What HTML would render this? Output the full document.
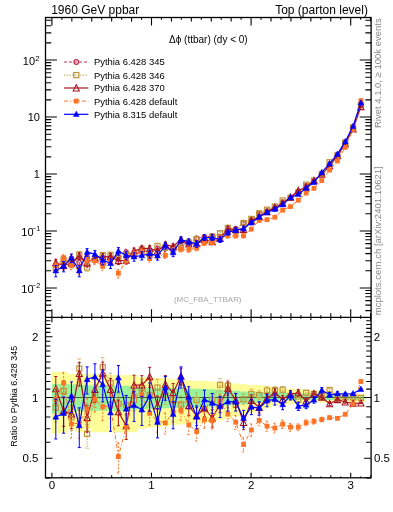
<!DOCTYPE html>
<html><head><meta charset="utf-8"><style>
html,body{margin:0;padding:0;background:#fff;}
svg{display:block;font-family:"Liberation Sans", sans-serif;will-change:transform;}
</style></head><body>
<svg width="393" height="512" viewBox="0 0 393 512">
<rect width="393" height="512" fill="#fff"/>
<path d="M51.90,371.80 L59.72,371.80 L59.72,371.80 L67.55,371.80 L67.55,374.00 L75.37,374.00 L75.37,374.00 L83.19,374.00 L83.19,374.00 L91.01,374.00 L91.01,374.00 L98.84,374.00 L98.84,375.10 L106.66,375.10 L106.66,375.10 L114.48,375.10 L114.48,375.10 L122.30,375.10 L122.30,375.10 L130.13,375.10 L130.13,375.10 L137.95,375.10 L137.95,376.90 L145.77,376.90 L145.77,377.50 L153.59,377.50 L153.59,377.93 L161.42,377.93 L161.42,378.20 L169.24,378.20 L169.24,379.15 L177.06,379.15 L177.06,380.10 L184.88,380.10 L184.88,380.40 L192.71,380.40 L192.71,380.70 L200.53,380.70 L200.53,381.05 L208.35,381.05 L208.35,381.40 L216.17,381.40 L216.17,382.12 L224.00,382.12 L224.00,382.84 L231.82,382.84 L231.82,383.56 L239.64,383.56 L239.64,384.28 L247.46,384.28 L247.46,385.00 L255.29,385.00 L255.29,385.00 L263.11,385.00 L263.11,386.25 L270.93,386.25 L270.93,387.74 L278.75,387.74 L278.75,388.22 L286.58,388.22 L286.58,388.70 L294.40,388.70 L294.40,389.20 L302.22,389.20 L302.22,389.70 L310.04,389.70 L310.04,390.20 L317.87,390.20 L317.87,390.92 L325.69,390.92 L325.69,391.63 L333.51,391.63 L333.51,392.35 L341.33,392.35 L341.33,393.07 L349.16,393.07 L349.16,393.78 L356.98,393.78 L356.98,394.50 L364.80,394.50 L364.80,401.90 L356.98,401.90 L356.98,402.03 L349.16,402.03 L349.16,402.17 L341.33,402.17 L341.33,402.30 L333.51,402.30 L333.51,402.43 L325.69,402.43 L325.69,402.57 L317.87,402.57 L317.87,402.70 L310.04,402.70 L310.04,403.20 L302.22,403.20 L302.22,403.70 L294.40,403.70 L294.40,404.21 L286.58,404.21 L286.58,404.72 L278.75,404.72 L278.75,405.24 L270.93,405.24 L270.93,408.25 L263.11,408.25 L263.11,411.40 L255.29,411.40 L255.29,412.70 L247.46,412.70 L247.46,414.50 L239.64,414.50 L239.64,416.50 L231.82,416.50 L231.82,418.50 L224.00,418.50 L224.00,420.50 L216.17,420.50 L216.17,422.21 L208.35,422.21 L208.35,422.79 L200.53,422.79 L200.53,423.36 L192.71,423.36 L192.71,423.93 L184.88,423.93 L184.88,424.50 L177.06,424.50 L177.06,425.33 L169.24,425.33 L169.24,426.17 L161.42,426.17 L161.42,427.00 L153.59,427.00 L153.59,427.85 L145.77,427.85 L145.77,428.70 L137.95,428.70 L137.95,432.30 L130.13,432.30 L130.13,432.30 L122.30,432.30 L122.30,432.30 L114.48,432.30 L114.48,432.30 L106.66,432.30 L106.66,432.30 L98.84,432.30 L98.84,432.30 L91.01,432.30 L91.01,429.20 L83.19,429.20 L83.19,432.00 L75.37,432.00 L75.37,429.40 L67.55,429.40 L67.55,433.50 L59.72,433.50 L59.72,433.50 L51.90,433.50 Z" fill="#fffd9a" stroke="none"/>
<path d="M51.90,383.90 L59.72,383.90 L59.72,383.90 L67.55,383.90 L67.55,384.37 L75.37,384.37 L75.37,384.83 L83.19,384.83 L83.19,385.30 L91.01,385.30 L91.01,385.55 L98.84,385.55 L98.84,385.80 L106.66,385.80 L106.66,385.80 L114.48,385.80 L114.48,385.80 L122.30,385.80 L122.30,385.80 L130.13,385.80 L130.13,387.00 L137.95,387.00 L137.95,387.36 L145.77,387.36 L145.77,387.72 L153.59,387.72 L153.59,387.94 L161.42,387.94 L161.42,388.02 L169.24,388.02 L169.24,388.10 L177.06,388.10 L177.06,388.18 L184.88,388.18 L184.88,388.38 L192.71,388.38 L192.71,388.64 L200.53,388.64 L200.53,388.89 L208.35,388.89 L208.35,389.15 L216.17,389.15 L216.17,389.66 L224.00,389.66 L224.00,390.24 L231.82,390.24 L231.82,390.82 L239.64,390.82 L239.64,391.40 L247.46,391.40 L247.46,391.98 L255.29,391.98 L255.29,392.13 L263.11,392.13 L263.11,392.17 L270.93,392.17 L270.93,392.29 L278.75,392.29 L278.75,392.59 L286.58,392.59 L286.58,392.88 L294.40,392.88 L294.40,393.23 L302.22,393.23 L302.22,393.61 L310.04,393.61 L310.04,394.00 L317.87,394.00 L317.87,394.38 L325.69,394.38 L325.69,394.77 L333.51,394.77 L333.51,395.15 L341.33,395.15 L341.33,395.53 L349.16,395.53 L349.16,395.92 L356.98,395.92 L356.98,396.30 L364.80,396.30 L364.80,399.80 L356.98,399.80 L356.98,399.83 L349.16,399.83 L349.16,399.87 L341.33,399.87 L341.33,399.90 L333.51,399.90 L333.51,399.94 L325.69,399.94 L325.69,399.97 L317.87,399.97 L317.87,400.01 L310.04,400.01 L310.04,400.04 L302.22,400.04 L302.22,400.08 L294.40,400.08 L294.40,400.26 L286.58,400.26 L286.58,400.67 L278.75,400.67 L278.75,401.08 L270.93,401.08 L270.93,401.49 L263.11,401.49 L263.11,402.32 L255.29,402.32 L255.29,403.44 L247.46,403.44 L247.46,404.14 L239.64,404.14 L239.64,404.84 L231.82,404.84 L231.82,405.54 L224.00,405.54 L224.00,406.24 L216.17,406.24 L216.17,406.84 L208.35,406.84 L208.35,407.06 L200.53,407.06 L200.53,407.29 L192.71,407.29 L192.71,407.51 L184.88,407.51 L184.88,407.73 L177.06,407.73 L177.06,407.95 L169.24,407.95 L169.24,408.17 L161.42,408.17 L161.42,408.39 L153.59,408.39 L153.59,408.70 L145.77,408.70 L145.77,409.10 L137.95,409.10 L137.95,409.50 L130.13,409.50 L130.13,411.00 L122.30,411.00 L122.30,410.92 L114.48,410.92 L114.48,410.84 L106.66,410.84 L106.66,410.76 L98.84,410.76 L98.84,410.68 L91.01,410.68 L91.01,410.60 L83.19,410.60 L83.19,411.35 L75.37,411.35 L75.37,412.10 L67.55,412.10 L67.55,413.70 L59.72,413.70 L59.72,413.70 L51.90,413.70 Z" fill="#9af29a" stroke="none"/>
<defs><clipPath id="cm"><rect x="45.5" y="17.5" width="325.6" height="299.85"/></clipPath><clipPath id="cr"><rect x="45.5" y="317.35" width="325.6" height="160.45"/></clipPath></defs>
<g clip-path="url(#cm)">
<path d="M55.81,265.13 L63.63,261.77 L71.46,258.35 L79.28,262.70 L87.10,257.31 L94.92,259.94 L102.75,263.70 L110.57,258.94 L118.39,256.66 L126.21,252.28 L134.04,254.40 L141.86,252.06 L149.68,254.25 L157.50,248.76 L165.33,248.29 L173.15,247.82 L180.97,245.64 L188.79,241.84 L196.62,238.51 L204.44,236.91 L212.26,235.95 L220.09,236.86 L227.91,231.24 L235.73,228.96 L243.55,222.53 L251.38,219.95 L259.20,213.98 L267.02,211.65 L274.84,208.59 L282.67,202.65 L290.49,198.19 L298.31,191.85 L306.13,186.01 L313.96,181.55 L321.78,174.43 L329.60,164.36 L337.42,155.20 L345.25,142.59 L353.07,127.40 L360.89,105.14" fill="none" stroke="#c0304e" stroke-width="1.0" stroke-dasharray="3,2" stroke-linejoin="round"/>
<path d="M55.81,261.25 L55.81,269.72 M54.31,261.25 L57.31,261.25 M54.31,269.72 L57.31,269.72" stroke="#c0304e" stroke-width="1" stroke-dasharray="2,1.5" fill="none"/>
<path d="M63.63,258.13 L63.63,266.04 M62.13,258.13 L65.13,258.13 M62.13,266.04 L65.13,266.04" stroke="#c0304e" stroke-width="1" stroke-dasharray="2,1.5" fill="none"/>
<path d="M71.46,254.94 L71.46,262.31 M69.96,254.94 L72.96,254.94 M69.96,262.31 L72.96,262.31" stroke="#c0304e" stroke-width="1" stroke-dasharray="2,1.5" fill="none"/>
<path d="M79.28,259.00 L79.28,267.06 M77.78,259.00 L80.78,259.00 M77.78,267.06 L80.78,267.06" stroke="#c0304e" stroke-width="1" stroke-dasharray="2,1.5" fill="none"/>
<path d="M87.10,253.96 L87.10,261.17 M85.60,253.96 L88.60,253.96 M85.60,261.17 L88.60,261.17" stroke="#c0304e" stroke-width="1" stroke-dasharray="2,1.5" fill="none"/>
<path d="M94.92,256.42 L94.92,264.04 M93.42,256.42 L96.42,256.42 M93.42,264.04 L96.42,264.04" stroke="#c0304e" stroke-width="1" stroke-dasharray="2,1.5" fill="none"/>
<path d="M102.75,259.92 L102.75,268.15 M101.25,259.92 L104.25,259.92 M101.25,268.15 L104.25,268.15" stroke="#c0304e" stroke-width="1" stroke-dasharray="2,1.5" fill="none"/>
<path d="M110.57,255.49 L110.57,262.95 M109.07,255.49 L112.07,255.49 M109.07,262.95 L112.07,262.95" stroke="#c0304e" stroke-width="1" stroke-dasharray="2,1.5" fill="none"/>
<path d="M118.39,253.35 L118.39,260.47 M116.89,253.35 L119.89,253.35 M116.89,260.47 L119.89,260.47" stroke="#c0304e" stroke-width="1" stroke-dasharray="2,1.5" fill="none"/>
<path d="M126.21,249.24 L126.21,255.75 M124.71,249.24 L127.71,249.24 M124.71,255.75 L127.71,255.75" stroke="#c0304e" stroke-width="1" stroke-dasharray="2,1.5" fill="none"/>
<path d="M134.04,251.23 L134.04,258.03 M132.54,251.23 L135.54,251.23 M132.54,258.03 L135.54,258.03" stroke="#c0304e" stroke-width="1" stroke-dasharray="2,1.5" fill="none"/>
<path d="M141.86,249.03 L141.86,255.51 M140.36,249.03 L143.36,249.03 M140.36,255.51 L143.36,255.51" stroke="#c0304e" stroke-width="1" stroke-dasharray="2,1.5" fill="none"/>
<path d="M149.68,251.09 L149.68,257.87 M148.18,251.09 L151.18,251.09 M148.18,257.87 L151.18,257.87" stroke="#c0304e" stroke-width="1" stroke-dasharray="2,1.5" fill="none"/>
<path d="M157.50,245.92 L157.50,251.97 M156.00,245.92 L159.00,245.92 M156.00,251.97 L159.00,251.97" stroke="#c0304e" stroke-width="1" stroke-dasharray="2,1.5" fill="none"/>
<path d="M165.33,245.47 L165.33,251.47 M163.83,245.47 L166.83,245.47 M163.83,251.47 L166.83,251.47" stroke="#c0304e" stroke-width="1" stroke-dasharray="2,1.5" fill="none"/>
<path d="M173.15,245.03 L173.15,250.97 M171.65,245.03 L174.65,245.03 M171.65,250.97 L174.65,250.97" stroke="#c0304e" stroke-width="1" stroke-dasharray="2,1.5" fill="none"/>
<path d="M180.97,242.96 L180.97,248.64 M179.47,242.96 L182.47,242.96 M179.47,248.64 L182.47,248.64" stroke="#c0304e" stroke-width="1" stroke-dasharray="2,1.5" fill="none"/>
<path d="M188.79,239.35 L188.79,244.61 M187.29,239.35 L190.29,239.35 M187.29,244.61 L190.29,244.61" stroke="#c0304e" stroke-width="1" stroke-dasharray="2,1.5" fill="none"/>
<path d="M196.62,236.18 L196.62,241.09 M195.12,236.18 L198.12,236.18 M195.12,241.09 L198.12,241.09" stroke="#c0304e" stroke-width="1" stroke-dasharray="2,1.5" fill="none"/>
<path d="M204.44,234.64 L204.44,239.40 M202.94,234.64 L205.94,234.64 M202.94,239.40 L205.94,239.40" stroke="#c0304e" stroke-width="1" stroke-dasharray="2,1.5" fill="none"/>
<path d="M212.26,233.73 L212.26,238.39 M210.76,233.73 L213.76,233.73 M210.76,238.39 L213.76,238.39" stroke="#c0304e" stroke-width="1" stroke-dasharray="2,1.5" fill="none"/>
<path d="M220.09,234.60 L220.09,239.35 M218.59,234.60 L221.59,234.60 M218.59,239.35 L221.59,239.35" stroke="#c0304e" stroke-width="1" stroke-dasharray="2,1.5" fill="none"/>
<path d="M227.91,229.21 L227.91,233.45 M226.41,229.21 L229.41,229.21 M226.41,233.45 L229.41,233.45" stroke="#c0304e" stroke-width="1" stroke-dasharray="2,1.5" fill="none"/>
<path d="M235.73,227.02 L235.73,231.07 M234.23,227.02 L237.23,227.02 M234.23,231.07 L237.23,231.07" stroke="#c0304e" stroke-width="1" stroke-dasharray="2,1.5" fill="none"/>
<path d="M243.55,220.82 L243.55,224.37 M242.05,220.82 L245.05,220.82 M242.05,224.37 L245.05,224.37" stroke="#c0304e" stroke-width="1" stroke-dasharray="2,1.5" fill="none"/>
<path d="M251.38,218.32 L251.38,221.69 M249.88,218.32 L252.88,218.32 M249.88,221.69 L252.88,221.69" stroke="#c0304e" stroke-width="1" stroke-dasharray="2,1.5" fill="none"/>
<path d="M259.20,212.53 L259.20,215.52 M257.70,212.53 L260.70,212.53 M257.70,215.52 L260.70,215.52" stroke="#c0304e" stroke-width="1" stroke-dasharray="2,1.5" fill="none"/>
<path d="M267.02,210.27 L267.02,213.12 M265.52,210.27 L268.52,210.27 M265.52,213.12 L268.52,213.12" stroke="#c0304e" stroke-width="1" stroke-dasharray="2,1.5" fill="none"/>
<path d="M274.84,207.29 L274.84,209.97 M273.34,207.29 L276.34,207.29 M273.34,209.97 L276.34,209.97" stroke="#c0304e" stroke-width="1" stroke-dasharray="2,1.5" fill="none"/>
<path d="M282.67,201.49 L282.67,203.87 M281.17,201.49 L284.17,201.49 M281.17,203.87 L284.17,203.87" stroke="#c0304e" stroke-width="1" stroke-dasharray="2,1.5" fill="none"/>
<path d="M290.49,197.13 L290.49,199.30 M288.99,197.13 L291.99,197.13 M288.99,199.30 L291.99,199.30" stroke="#c0304e" stroke-width="1" stroke-dasharray="2,1.5" fill="none"/>
<path d="M298.31,190.91 L298.31,192.82 M296.81,190.91 L299.81,190.91 M296.81,192.82 L299.81,192.82" stroke="#c0304e" stroke-width="1" stroke-dasharray="2,1.5" fill="none"/>
<path d="M306.13,185.18 L306.13,186.88 M304.63,185.18 L307.63,185.18 M304.63,186.88 L307.63,186.88" stroke="#c0304e" stroke-width="1" stroke-dasharray="2,1.5" fill="none"/>
<path d="M313.96,180.79 L313.96,182.34 M312.46,180.79 L315.46,180.79 M312.46,182.34 L315.46,182.34" stroke="#c0304e" stroke-width="1" stroke-dasharray="2,1.5" fill="none"/>
<path d="M321.78,173.77 L321.78,175.11 M320.28,173.77 L323.28,173.77 M320.28,175.11 L323.28,175.11" stroke="#c0304e" stroke-width="1" stroke-dasharray="2,1.5" fill="none"/>
<path d="M329.60,163.82 L329.60,164.92 M328.10,163.82 L331.10,163.82 M328.10,164.92 L331.10,164.92" stroke="#c0304e" stroke-width="1" stroke-dasharray="2,1.5" fill="none"/>
<path d="M337.42,154.75 L337.42,155.66 M335.92,154.75 L338.92,154.75 M335.92,155.66 L338.92,155.66" stroke="#c0304e" stroke-width="1" stroke-dasharray="2,1.5" fill="none"/>
<path d="M345.25,142.24 L345.25,142.94 M343.75,142.24 L346.75,142.24 M343.75,142.94 L346.75,142.94" stroke="#c0304e" stroke-width="1" stroke-dasharray="2,1.5" fill="none"/>
<path d="M353.07,127.14 L353.07,127.66 M351.57,127.14 L354.57,127.14 M351.57,127.66 L354.57,127.66" stroke="#c0304e" stroke-width="1" stroke-dasharray="2,1.5" fill="none"/>
<path d="M360.89,104.98 L360.89,105.31 M359.39,104.98 L362.39,104.98 M359.39,105.31 L362.39,105.31" stroke="#c0304e" stroke-width="1" stroke-dasharray="2,1.5" fill="none"/>
<circle cx="55.81" cy="265.13" r="2.3" fill="none" stroke="#c0304e" stroke-width="1.2"/>
<circle cx="63.63" cy="261.77" r="2.3" fill="none" stroke="#c0304e" stroke-width="1.2"/>
<circle cx="71.46" cy="258.35" r="2.3" fill="none" stroke="#c0304e" stroke-width="1.2"/>
<circle cx="79.28" cy="262.70" r="2.3" fill="none" stroke="#c0304e" stroke-width="1.2"/>
<circle cx="87.10" cy="257.31" r="2.3" fill="none" stroke="#c0304e" stroke-width="1.2"/>
<circle cx="94.92" cy="259.94" r="2.3" fill="none" stroke="#c0304e" stroke-width="1.2"/>
<circle cx="102.75" cy="263.70" r="2.3" fill="none" stroke="#c0304e" stroke-width="1.2"/>
<circle cx="110.57" cy="258.94" r="2.3" fill="none" stroke="#c0304e" stroke-width="1.2"/>
<circle cx="118.39" cy="256.66" r="2.3" fill="none" stroke="#c0304e" stroke-width="1.2"/>
<circle cx="126.21" cy="252.28" r="2.3" fill="none" stroke="#c0304e" stroke-width="1.2"/>
<circle cx="134.04" cy="254.40" r="2.3" fill="none" stroke="#c0304e" stroke-width="1.2"/>
<circle cx="141.86" cy="252.06" r="2.3" fill="none" stroke="#c0304e" stroke-width="1.2"/>
<circle cx="149.68" cy="254.25" r="2.3" fill="none" stroke="#c0304e" stroke-width="1.2"/>
<circle cx="157.50" cy="248.76" r="2.3" fill="none" stroke="#c0304e" stroke-width="1.2"/>
<circle cx="165.33" cy="248.29" r="2.3" fill="none" stroke="#c0304e" stroke-width="1.2"/>
<circle cx="173.15" cy="247.82" r="2.3" fill="none" stroke="#c0304e" stroke-width="1.2"/>
<circle cx="180.97" cy="245.64" r="2.3" fill="none" stroke="#c0304e" stroke-width="1.2"/>
<circle cx="188.79" cy="241.84" r="2.3" fill="none" stroke="#c0304e" stroke-width="1.2"/>
<circle cx="196.62" cy="238.51" r="2.3" fill="none" stroke="#c0304e" stroke-width="1.2"/>
<circle cx="204.44" cy="236.91" r="2.3" fill="none" stroke="#c0304e" stroke-width="1.2"/>
<circle cx="212.26" cy="235.95" r="2.3" fill="none" stroke="#c0304e" stroke-width="1.2"/>
<circle cx="220.09" cy="236.86" r="2.3" fill="none" stroke="#c0304e" stroke-width="1.2"/>
<circle cx="227.91" cy="231.24" r="2.3" fill="none" stroke="#c0304e" stroke-width="1.2"/>
<circle cx="235.73" cy="228.96" r="2.3" fill="none" stroke="#c0304e" stroke-width="1.2"/>
<circle cx="243.55" cy="222.53" r="2.3" fill="none" stroke="#c0304e" stroke-width="1.2"/>
<circle cx="251.38" cy="219.95" r="2.3" fill="none" stroke="#c0304e" stroke-width="1.2"/>
<circle cx="259.20" cy="213.98" r="2.3" fill="none" stroke="#c0304e" stroke-width="1.2"/>
<circle cx="267.02" cy="211.65" r="2.3" fill="none" stroke="#c0304e" stroke-width="1.2"/>
<circle cx="274.84" cy="208.59" r="2.3" fill="none" stroke="#c0304e" stroke-width="1.2"/>
<circle cx="282.67" cy="202.65" r="2.3" fill="none" stroke="#c0304e" stroke-width="1.2"/>
<circle cx="290.49" cy="198.19" r="2.3" fill="none" stroke="#c0304e" stroke-width="1.2"/>
<circle cx="298.31" cy="191.85" r="2.3" fill="none" stroke="#c0304e" stroke-width="1.2"/>
<circle cx="306.13" cy="186.01" r="2.3" fill="none" stroke="#c0304e" stroke-width="1.2"/>
<circle cx="313.96" cy="181.55" r="2.3" fill="none" stroke="#c0304e" stroke-width="1.2"/>
<circle cx="321.78" cy="174.43" r="2.3" fill="none" stroke="#c0304e" stroke-width="1.2"/>
<circle cx="329.60" cy="164.36" r="2.3" fill="none" stroke="#c0304e" stroke-width="1.2"/>
<circle cx="337.42" cy="155.20" r="2.3" fill="none" stroke="#c0304e" stroke-width="1.2"/>
<circle cx="345.25" cy="142.59" r="2.3" fill="none" stroke="#c0304e" stroke-width="1.2"/>
<circle cx="353.07" cy="127.40" r="2.3" fill="none" stroke="#c0304e" stroke-width="1.2"/>
<circle cx="360.89" cy="105.14" r="2.3" fill="none" stroke="#c0304e" stroke-width="1.2"/>
</g>
<g clip-path="url(#cm)">
<path d="M55.81,268.00 L63.63,259.94 L71.46,263.94 L79.28,254.52 L87.10,267.54 L94.92,259.23 L102.75,255.18 L110.57,254.82 L118.39,258.43 L126.21,254.40 L134.04,255.11 L141.86,249.46 L149.68,253.55 L157.50,245.97 L165.33,247.59 L173.15,248.52 L180.97,247.61 L188.79,242.55 L196.62,239.22 L204.44,240.15 L212.26,236.65 L220.09,233.28 L227.91,227.92 L235.73,231.07 L243.55,223.04 L251.38,218.93 L259.20,213.28 L267.02,209.71 L274.84,206.50 L282.67,200.45 L290.49,197.77 L298.31,192.49 L306.13,184.69 L313.96,180.59 L321.78,174.01 L329.60,162.25 L337.42,155.06 L345.25,142.45 L353.07,127.40 L360.89,105.25" fill="none" stroke="#c09438" stroke-width="1.0" stroke-dasharray="1.2,1.5" stroke-linejoin="round"/>
<path d="M55.81,264.48 L55.81,272.12 M54.31,264.48 L57.31,264.48 M54.31,272.12 L57.31,272.12" stroke="#c09438" stroke-width="1" stroke-dasharray="1,1.2" fill="none"/>
<path d="M63.63,256.91 L63.63,263.39 M62.13,256.91 L65.13,256.91 M62.13,263.39 L65.13,263.39" stroke="#c09438" stroke-width="1" stroke-dasharray="1,1.2" fill="none"/>
<path d="M71.46,260.67 L71.46,267.70 M69.96,260.67 L72.96,260.67 M69.96,267.70 L72.96,267.70" stroke="#c09438" stroke-width="1" stroke-dasharray="1,1.2" fill="none"/>
<path d="M79.28,251.79 L79.28,257.59 M77.78,251.79 L80.78,251.79 M77.78,257.59 L80.78,257.59" stroke="#c09438" stroke-width="1" stroke-dasharray="1,1.2" fill="none"/>
<path d="M87.10,264.05 L87.10,271.62 M85.60,264.05 L88.60,264.05 M85.60,271.62 L88.60,271.62" stroke="#c09438" stroke-width="1" stroke-dasharray="1,1.2" fill="none"/>
<path d="M94.92,256.25 L94.92,262.63 M93.42,256.25 L96.42,256.25 M93.42,262.63 L96.42,262.63" stroke="#c09438" stroke-width="1" stroke-dasharray="1,1.2" fill="none"/>
<path d="M102.75,252.41 L102.75,258.29 M101.25,252.41 L104.25,252.41 M101.25,258.29 L104.25,258.29" stroke="#c09438" stroke-width="1" stroke-dasharray="1,1.2" fill="none"/>
<path d="M110.57,252.08 L110.57,257.91 M109.07,252.08 L112.07,252.08 M109.07,257.91 L112.07,257.91" stroke="#c09438" stroke-width="1" stroke-dasharray="1,1.2" fill="none"/>
<path d="M118.39,255.49 L118.39,261.77 M116.89,255.49 L119.89,255.49 M116.89,261.77 L119.89,261.77" stroke="#c09438" stroke-width="1" stroke-dasharray="1,1.2" fill="none"/>
<path d="M126.21,251.68 L126.21,257.46 M124.71,251.68 L127.71,251.68 M124.71,257.46 L127.71,257.46" stroke="#c09438" stroke-width="1" stroke-dasharray="1,1.2" fill="none"/>
<path d="M134.04,252.34 L134.04,258.21 M132.54,252.34 L135.54,252.34 M132.54,258.21 L135.54,258.21" stroke="#c09438" stroke-width="1" stroke-dasharray="1,1.2" fill="none"/>
<path d="M141.86,246.99 L141.86,252.22 M140.36,246.99 L143.36,246.99 M140.36,252.22 L143.36,252.22" stroke="#c09438" stroke-width="1" stroke-dasharray="1,1.2" fill="none"/>
<path d="M149.68,250.87 L149.68,256.55 M148.18,250.87 L151.18,250.87 M148.18,256.55 L151.18,256.55" stroke="#c09438" stroke-width="1" stroke-dasharray="1,1.2" fill="none"/>
<path d="M157.50,243.65 L157.50,248.53 M156.00,243.65 L159.00,243.65 M156.00,248.53 L159.00,248.53" stroke="#c09438" stroke-width="1" stroke-dasharray="1,1.2" fill="none"/>
<path d="M165.33,245.20 L165.33,250.23 M163.83,245.20 L166.83,245.20 M163.83,250.23 L166.83,250.23" stroke="#c09438" stroke-width="1" stroke-dasharray="1,1.2" fill="none"/>
<path d="M173.15,246.09 L173.15,251.22 M171.65,246.09 L174.65,246.09 M171.65,251.22 L174.65,251.22" stroke="#c09438" stroke-width="1" stroke-dasharray="1,1.2" fill="none"/>
<path d="M180.97,245.22 L180.97,250.26 M179.47,245.22 L182.47,245.22 M179.47,250.26 L182.47,250.26" stroke="#c09438" stroke-width="1" stroke-dasharray="1,1.2" fill="none"/>
<path d="M188.79,240.38 L188.79,244.92 M187.29,240.38 L190.29,240.38 M187.29,244.92 L190.29,244.92" stroke="#c09438" stroke-width="1" stroke-dasharray="1,1.2" fill="none"/>
<path d="M196.62,237.18 L196.62,241.43 M195.12,237.18 L198.12,237.18 M195.12,241.43 L198.12,241.43" stroke="#c09438" stroke-width="1" stroke-dasharray="1,1.2" fill="none"/>
<path d="M204.44,238.08 L204.44,242.41 M202.94,238.08 L205.94,238.08 M202.94,242.41 L205.94,242.41" stroke="#c09438" stroke-width="1" stroke-dasharray="1,1.2" fill="none"/>
<path d="M212.26,234.72 L212.26,238.75 M210.76,234.72 L213.76,234.72 M210.76,238.75 L213.76,238.75" stroke="#c09438" stroke-width="1" stroke-dasharray="1,1.2" fill="none"/>
<path d="M220.09,231.47 L220.09,235.23 M218.59,231.47 L221.59,231.47 M218.59,235.23 L221.59,235.23" stroke="#c09438" stroke-width="1" stroke-dasharray="1,1.2" fill="none"/>
<path d="M227.91,226.28 L227.91,229.66 M226.41,226.28 L229.41,226.28 M226.41,229.66 L229.41,229.66" stroke="#c09438" stroke-width="1" stroke-dasharray="1,1.2" fill="none"/>
<path d="M235.73,229.34 L235.73,232.94 M234.23,229.34 L237.23,229.34 M234.23,232.94 L237.23,232.94" stroke="#c09438" stroke-width="1" stroke-dasharray="1,1.2" fill="none"/>
<path d="M243.55,221.56 L243.55,224.62 M242.05,221.56 L245.05,221.56 M242.05,224.62 L245.05,224.62" stroke="#c09438" stroke-width="1" stroke-dasharray="1,1.2" fill="none"/>
<path d="M251.38,217.57 L251.38,220.38 M249.88,217.57 L252.88,217.57 M249.88,220.38 L252.88,220.38" stroke="#c09438" stroke-width="1" stroke-dasharray="1,1.2" fill="none"/>
<path d="M259.20,212.05 L259.20,214.56 M257.70,212.05 L260.70,212.05 M257.70,214.56 L260.70,214.56" stroke="#c09438" stroke-width="1" stroke-dasharray="1,1.2" fill="none"/>
<path d="M267.02,208.57 L267.02,210.90 M265.52,208.57 L268.52,208.57 M265.52,210.90 L268.52,210.90" stroke="#c09438" stroke-width="1" stroke-dasharray="1,1.2" fill="none"/>
<path d="M274.84,205.43 L274.84,207.62 M273.34,205.43 L276.34,205.43 M273.34,207.62 L276.34,207.62" stroke="#c09438" stroke-width="1" stroke-dasharray="1,1.2" fill="none"/>
<path d="M282.67,199.50 L282.67,201.44 M281.17,199.50 L284.17,199.50 M281.17,201.44 L284.17,201.44" stroke="#c09438" stroke-width="1" stroke-dasharray="1,1.2" fill="none"/>
<path d="M290.49,196.87 L290.49,198.70 M288.99,196.87 L291.99,196.87 M288.99,198.70 L291.99,198.70" stroke="#c09438" stroke-width="1" stroke-dasharray="1,1.2" fill="none"/>
<path d="M298.31,191.68 L298.31,193.33 M296.81,191.68 L299.81,191.68 M296.81,193.33 L299.81,193.33" stroke="#c09438" stroke-width="1" stroke-dasharray="1,1.2" fill="none"/>
<path d="M306.13,183.99 L306.13,185.40 M304.63,183.99 L307.63,183.99 M304.63,185.40 L307.63,185.40" stroke="#c09438" stroke-width="1" stroke-dasharray="1,1.2" fill="none"/>
<path d="M313.96,179.95 L313.96,181.25 M312.46,179.95 L315.46,179.95 M312.46,181.25 L315.46,181.25" stroke="#c09438" stroke-width="1" stroke-dasharray="1,1.2" fill="none"/>
<path d="M321.78,173.45 L321.78,174.58 M320.28,173.45 L323.28,173.45 M320.28,174.58 L323.28,174.58" stroke="#c09438" stroke-width="1" stroke-dasharray="1,1.2" fill="none"/>
<path d="M329.60,161.80 L329.60,162.70 M328.10,161.80 L331.10,161.80 M328.10,162.70 L331.10,162.70" stroke="#c09438" stroke-width="1" stroke-dasharray="1,1.2" fill="none"/>
<path d="M337.42,154.68 L337.42,155.45 M335.92,154.68 L338.92,154.68 M335.92,155.45 L338.92,155.45" stroke="#c09438" stroke-width="1" stroke-dasharray="1,1.2" fill="none"/>
<path d="M345.25,142.15 L345.25,142.75 M343.75,142.15 L346.75,142.15 M343.75,142.75 L346.75,142.75" stroke="#c09438" stroke-width="1" stroke-dasharray="1,1.2" fill="none"/>
<path d="M353.07,127.18 L353.07,127.62 M351.57,127.18 L354.57,127.18 M351.57,127.62 L354.57,127.62" stroke="#c09438" stroke-width="1" stroke-dasharray="1,1.2" fill="none"/>
<path d="M360.89,105.11 L360.89,105.40 M359.39,105.11 L362.39,105.11 M359.39,105.40 L362.39,105.40" stroke="#c09438" stroke-width="1" stroke-dasharray="1,1.2" fill="none"/>
<rect x="53.26" y="265.45" width="5.1" height="5.1" fill="none" stroke="#c09438" stroke-width="1.2"/>
<rect x="61.08" y="257.39" width="5.1" height="5.1" fill="none" stroke="#c09438" stroke-width="1.2"/>
<rect x="68.91" y="261.39" width="5.1" height="5.1" fill="none" stroke="#c09438" stroke-width="1.2"/>
<rect x="76.73" y="251.97" width="5.1" height="5.1" fill="none" stroke="#c09438" stroke-width="1.2"/>
<rect x="84.55" y="264.99" width="5.1" height="5.1" fill="none" stroke="#c09438" stroke-width="1.2"/>
<rect x="92.37" y="256.68" width="5.1" height="5.1" fill="none" stroke="#c09438" stroke-width="1.2"/>
<rect x="100.20" y="252.63" width="5.1" height="5.1" fill="none" stroke="#c09438" stroke-width="1.2"/>
<rect x="108.02" y="252.27" width="5.1" height="5.1" fill="none" stroke="#c09438" stroke-width="1.2"/>
<rect x="115.84" y="255.88" width="5.1" height="5.1" fill="none" stroke="#c09438" stroke-width="1.2"/>
<rect x="123.66" y="251.85" width="5.1" height="5.1" fill="none" stroke="#c09438" stroke-width="1.2"/>
<rect x="131.49" y="252.56" width="5.1" height="5.1" fill="none" stroke="#c09438" stroke-width="1.2"/>
<rect x="139.31" y="246.91" width="5.1" height="5.1" fill="none" stroke="#c09438" stroke-width="1.2"/>
<rect x="147.13" y="251.00" width="5.1" height="5.1" fill="none" stroke="#c09438" stroke-width="1.2"/>
<rect x="154.95" y="243.42" width="5.1" height="5.1" fill="none" stroke="#c09438" stroke-width="1.2"/>
<rect x="162.78" y="245.04" width="5.1" height="5.1" fill="none" stroke="#c09438" stroke-width="1.2"/>
<rect x="170.60" y="245.97" width="5.1" height="5.1" fill="none" stroke="#c09438" stroke-width="1.2"/>
<rect x="178.42" y="245.06" width="5.1" height="5.1" fill="none" stroke="#c09438" stroke-width="1.2"/>
<rect x="186.24" y="240.00" width="5.1" height="5.1" fill="none" stroke="#c09438" stroke-width="1.2"/>
<rect x="194.07" y="236.67" width="5.1" height="5.1" fill="none" stroke="#c09438" stroke-width="1.2"/>
<rect x="201.89" y="237.60" width="5.1" height="5.1" fill="none" stroke="#c09438" stroke-width="1.2"/>
<rect x="209.71" y="234.10" width="5.1" height="5.1" fill="none" stroke="#c09438" stroke-width="1.2"/>
<rect x="217.54" y="230.73" width="5.1" height="5.1" fill="none" stroke="#c09438" stroke-width="1.2"/>
<rect x="225.36" y="225.37" width="5.1" height="5.1" fill="none" stroke="#c09438" stroke-width="1.2"/>
<rect x="233.18" y="228.52" width="5.1" height="5.1" fill="none" stroke="#c09438" stroke-width="1.2"/>
<rect x="241.00" y="220.49" width="5.1" height="5.1" fill="none" stroke="#c09438" stroke-width="1.2"/>
<rect x="248.83" y="216.38" width="5.1" height="5.1" fill="none" stroke="#c09438" stroke-width="1.2"/>
<rect x="256.65" y="210.73" width="5.1" height="5.1" fill="none" stroke="#c09438" stroke-width="1.2"/>
<rect x="264.47" y="207.16" width="5.1" height="5.1" fill="none" stroke="#c09438" stroke-width="1.2"/>
<rect x="272.29" y="203.95" width="5.1" height="5.1" fill="none" stroke="#c09438" stroke-width="1.2"/>
<rect x="280.12" y="197.90" width="5.1" height="5.1" fill="none" stroke="#c09438" stroke-width="1.2"/>
<rect x="287.94" y="195.22" width="5.1" height="5.1" fill="none" stroke="#c09438" stroke-width="1.2"/>
<rect x="295.76" y="189.94" width="5.1" height="5.1" fill="none" stroke="#c09438" stroke-width="1.2"/>
<rect x="303.58" y="182.14" width="5.1" height="5.1" fill="none" stroke="#c09438" stroke-width="1.2"/>
<rect x="311.41" y="178.04" width="5.1" height="5.1" fill="none" stroke="#c09438" stroke-width="1.2"/>
<rect x="319.23" y="171.46" width="5.1" height="5.1" fill="none" stroke="#c09438" stroke-width="1.2"/>
<rect x="327.05" y="159.70" width="5.1" height="5.1" fill="none" stroke="#c09438" stroke-width="1.2"/>
<rect x="334.87" y="152.51" width="5.1" height="5.1" fill="none" stroke="#c09438" stroke-width="1.2"/>
<rect x="342.70" y="139.90" width="5.1" height="5.1" fill="none" stroke="#c09438" stroke-width="1.2"/>
<rect x="350.52" y="124.85" width="5.1" height="5.1" fill="none" stroke="#c09438" stroke-width="1.2"/>
<rect x="358.34" y="102.70" width="5.1" height="5.1" fill="none" stroke="#c09438" stroke-width="1.2"/>
</g>
<g clip-path="url(#cm)">
<path d="M55.81,262.70 L63.63,265.55 L71.46,263.03 L79.28,255.96 L87.10,262.97 L94.92,257.68 L102.75,256.84 L110.57,256.68 L118.39,260.72 L126.21,260.27 L134.04,250.90 L141.86,248.56 L149.68,248.41 L157.50,251.16 L165.33,244.60 L173.15,246.46 L180.97,239.63 L188.79,244.15 L196.62,243.73 L204.44,239.87 L212.26,241.73 L220.09,238.69 L227.91,228.65 L235.73,229.66 L243.55,229.61 L251.38,220.79 L259.20,216.80 L267.02,211.79 L274.84,207.29 L282.67,203.16 L290.49,197.21 L298.31,190.52 L306.13,187.00 L313.96,180.51 L321.78,174.37 L329.60,166.14 L337.42,155.82 L345.25,143.86 L353.07,129.06 L360.89,106.72" fill="none" stroke="#a81424" stroke-width="1.2" stroke-dasharray="none" stroke-linejoin="round"/>
<path d="M55.81,259.20 L55.81,266.78 M54.31,259.20 L57.31,259.20 M54.31,266.78 L57.31,266.78" stroke="#a81424" stroke-width="1" stroke-dasharray="none" fill="none"/>
<path d="M63.63,261.86 L63.63,269.89 M62.13,261.86 L65.13,261.86 M62.13,269.89 L65.13,269.89" stroke="#a81424" stroke-width="1" stroke-dasharray="none" fill="none"/>
<path d="M71.46,259.51 L71.46,267.14 M69.96,259.51 L72.96,259.51 M69.96,267.14 L72.96,267.14" stroke="#a81424" stroke-width="1" stroke-dasharray="none" fill="none"/>
<path d="M79.28,252.88 L79.28,259.48 M77.78,252.88 L80.78,252.88 M77.78,259.48 L80.78,259.48" stroke="#a81424" stroke-width="1" stroke-dasharray="none" fill="none"/>
<path d="M87.10,259.46 L87.10,267.08 M85.60,259.46 L88.60,259.46 M85.60,267.08 L88.60,267.08" stroke="#a81424" stroke-width="1" stroke-dasharray="none" fill="none"/>
<path d="M94.92,254.50 L94.92,261.34 M93.42,254.50 L96.42,254.50 M93.42,261.34 L96.42,261.34" stroke="#a81424" stroke-width="1" stroke-dasharray="none" fill="none"/>
<path d="M102.75,253.71 L102.75,260.43 M101.25,253.71 L104.25,253.71 M101.25,260.43 L104.25,260.43" stroke="#a81424" stroke-width="1" stroke-dasharray="none" fill="none"/>
<path d="M110.57,253.56 L110.57,260.26 M109.07,253.56 L112.07,253.56 M109.07,260.26 L112.07,260.26" stroke="#a81424" stroke-width="1" stroke-dasharray="none" fill="none"/>
<path d="M118.39,257.35 L118.39,264.62 M116.89,257.35 L119.89,257.35 M116.89,264.62 L119.89,264.62" stroke="#a81424" stroke-width="1" stroke-dasharray="none" fill="none"/>
<path d="M126.21,256.93 L126.21,264.13 M124.71,256.93 L127.71,256.93 M124.71,264.13 L127.71,264.13" stroke="#a81424" stroke-width="1" stroke-dasharray="none" fill="none"/>
<path d="M134.04,248.11 L134.04,254.06 M132.54,248.11 L135.54,248.11 M132.54,254.06 L135.54,254.06" stroke="#a81424" stroke-width="1" stroke-dasharray="none" fill="none"/>
<path d="M141.86,245.89 L141.86,251.56 M140.36,245.89 L143.36,245.89 M140.36,251.56 L143.36,251.56" stroke="#a81424" stroke-width="1" stroke-dasharray="none" fill="none"/>
<path d="M149.68,245.75 L149.68,251.40 M148.18,245.75 L151.18,245.75 M148.18,251.40 L151.18,251.40" stroke="#a81424" stroke-width="1" stroke-dasharray="none" fill="none"/>
<path d="M157.50,248.35 L157.50,254.33 M156.00,248.35 L159.00,248.35 M156.00,254.33 L159.00,254.33" stroke="#a81424" stroke-width="1" stroke-dasharray="none" fill="none"/>
<path d="M165.33,242.12 L165.33,247.35 M163.83,242.12 L166.83,242.12 M163.83,247.35 L166.83,247.35" stroke="#a81424" stroke-width="1" stroke-dasharray="none" fill="none"/>
<path d="M173.15,243.89 L173.15,249.33 M171.65,243.89 L174.65,243.89 M171.65,249.33 L174.65,249.33" stroke="#a81424" stroke-width="1" stroke-dasharray="none" fill="none"/>
<path d="M180.97,237.38 L180.97,242.11 M179.47,237.38 L182.47,237.38 M179.47,242.11 L182.47,242.11" stroke="#a81424" stroke-width="1" stroke-dasharray="none" fill="none"/>
<path d="M188.79,241.70 L188.79,246.88 M187.29,241.70 L190.29,241.70 M187.29,246.88 L190.29,246.88" stroke="#a81424" stroke-width="1" stroke-dasharray="none" fill="none"/>
<path d="M196.62,241.29 L196.62,246.43 M195.12,241.29 L198.12,241.29 M195.12,246.43 L198.12,246.43" stroke="#a81424" stroke-width="1" stroke-dasharray="none" fill="none"/>
<path d="M204.44,237.61 L204.44,242.36 M202.94,237.61 L205.94,237.61 M202.94,242.36 L205.94,242.36" stroke="#a81424" stroke-width="1" stroke-dasharray="none" fill="none"/>
<path d="M212.26,239.39 L212.26,244.32 M210.76,239.39 L213.76,239.39 M210.76,244.32 L213.76,244.32" stroke="#a81424" stroke-width="1" stroke-dasharray="none" fill="none"/>
<path d="M220.09,236.48 L220.09,241.12 M218.59,236.48 L221.59,236.48 M218.59,241.12 L221.59,241.12" stroke="#a81424" stroke-width="1" stroke-dasharray="none" fill="none"/>
<path d="M227.91,226.83 L227.91,230.61 M226.41,226.83 L229.41,226.83 M226.41,230.61 L229.41,230.61" stroke="#a81424" stroke-width="1" stroke-dasharray="none" fill="none"/>
<path d="M235.73,227.81 L235.73,231.67 M234.23,227.81 L237.23,227.81 M234.23,231.67 L237.23,231.67" stroke="#a81424" stroke-width="1" stroke-dasharray="none" fill="none"/>
<path d="M243.55,227.76 L243.55,231.62 M242.05,227.76 L245.05,227.76 M242.05,231.62 L245.05,231.62" stroke="#a81424" stroke-width="1" stroke-dasharray="none" fill="none"/>
<path d="M251.38,219.23 L251.38,222.46 M249.88,219.23 L252.88,219.23 M249.88,222.46 L252.88,222.46" stroke="#a81424" stroke-width="1" stroke-dasharray="none" fill="none"/>
<path d="M259.20,215.36 L259.20,218.34 M257.70,215.36 L260.70,215.36 M257.70,218.34 L260.70,218.34" stroke="#a81424" stroke-width="1" stroke-dasharray="none" fill="none"/>
<path d="M267.02,210.49 L267.02,213.18 M265.52,210.49 L268.52,210.49 M265.52,213.18 L268.52,213.18" stroke="#a81424" stroke-width="1" stroke-dasharray="none" fill="none"/>
<path d="M274.84,206.10 L274.84,208.55 M273.34,206.10 L276.34,206.10 M273.34,208.55 L276.34,208.55" stroke="#a81424" stroke-width="1" stroke-dasharray="none" fill="none"/>
<path d="M282.67,202.06 L282.67,204.32 M281.17,202.06 L284.17,202.06 M281.17,204.32 L284.17,204.32" stroke="#a81424" stroke-width="1" stroke-dasharray="none" fill="none"/>
<path d="M290.49,196.22 L290.49,198.23 M288.99,196.22 L291.99,196.22 M288.99,198.23 L291.99,198.23" stroke="#a81424" stroke-width="1" stroke-dasharray="none" fill="none"/>
<path d="M298.31,189.66 L298.31,191.41 M296.81,189.66 L299.81,189.66 M296.81,191.41 L299.81,191.41" stroke="#a81424" stroke-width="1" stroke-dasharray="none" fill="none"/>
<path d="M306.13,186.20 L306.13,187.83 M304.63,186.20 L307.63,186.20 M304.63,187.83 L307.63,187.83" stroke="#a81424" stroke-width="1" stroke-dasharray="none" fill="none"/>
<path d="M313.96,179.80 L313.96,181.23 M312.46,179.80 L315.46,179.80 M312.46,181.23 L315.46,181.23" stroke="#a81424" stroke-width="1" stroke-dasharray="none" fill="none"/>
<path d="M321.78,173.75 L321.78,175.01 M320.28,173.75 L323.28,173.75 M320.28,175.01 L323.28,175.01" stroke="#a81424" stroke-width="1" stroke-dasharray="none" fill="none"/>
<path d="M329.60,165.61 L329.60,166.68 M328.10,165.61 L331.10,165.61 M328.10,166.68 L331.10,166.68" stroke="#a81424" stroke-width="1" stroke-dasharray="none" fill="none"/>
<path d="M337.42,155.39 L337.42,156.26 M335.92,155.39 L338.92,155.39 M335.92,156.26 L338.92,156.26" stroke="#a81424" stroke-width="1" stroke-dasharray="none" fill="none"/>
<path d="M345.25,143.52 L345.25,144.20 M343.75,143.52 L346.75,143.52 M343.75,144.20 L346.75,144.20" stroke="#a81424" stroke-width="1" stroke-dasharray="none" fill="none"/>
<path d="M353.07,128.81 L353.07,129.32 M351.57,128.81 L354.57,128.81 M351.57,129.32 L354.57,129.32" stroke="#a81424" stroke-width="1" stroke-dasharray="none" fill="none"/>
<path d="M360.89,106.56 L360.89,106.88 M359.39,106.56 L362.39,106.56 M359.39,106.88 L362.39,106.88" stroke="#a81424" stroke-width="1" stroke-dasharray="none" fill="none"/>
<path d="M55.81,259.40 L58.91,265.60 L52.71,265.60 Z" fill="none" stroke="#a81424" stroke-width="1.05" stroke-linejoin="miter"/>
<path d="M63.63,262.25 L66.73,268.45 L60.53,268.45 Z" fill="none" stroke="#a81424" stroke-width="1.05" stroke-linejoin="miter"/>
<path d="M71.46,259.73 L74.56,265.93 L68.36,265.93 Z" fill="none" stroke="#a81424" stroke-width="1.05" stroke-linejoin="miter"/>
<path d="M79.28,252.66 L82.38,258.86 L76.18,258.86 Z" fill="none" stroke="#a81424" stroke-width="1.05" stroke-linejoin="miter"/>
<path d="M87.10,259.67 L90.20,265.87 L84.00,265.87 Z" fill="none" stroke="#a81424" stroke-width="1.05" stroke-linejoin="miter"/>
<path d="M94.92,254.38 L98.02,260.58 L91.82,260.58 Z" fill="none" stroke="#a81424" stroke-width="1.05" stroke-linejoin="miter"/>
<path d="M102.75,253.54 L105.85,259.74 L99.65,259.74 Z" fill="none" stroke="#a81424" stroke-width="1.05" stroke-linejoin="miter"/>
<path d="M110.57,253.38 L113.67,259.58 L107.47,259.58 Z" fill="none" stroke="#a81424" stroke-width="1.05" stroke-linejoin="miter"/>
<path d="M118.39,257.42 L121.49,263.62 L115.29,263.62 Z" fill="none" stroke="#a81424" stroke-width="1.05" stroke-linejoin="miter"/>
<path d="M126.21,256.97 L129.31,263.17 L123.11,263.17 Z" fill="none" stroke="#a81424" stroke-width="1.05" stroke-linejoin="miter"/>
<path d="M134.04,247.60 L137.14,253.80 L130.94,253.80 Z" fill="none" stroke="#a81424" stroke-width="1.05" stroke-linejoin="miter"/>
<path d="M141.86,245.26 L144.96,251.46 L138.76,251.46 Z" fill="none" stroke="#a81424" stroke-width="1.05" stroke-linejoin="miter"/>
<path d="M149.68,245.11 L152.78,251.31 L146.58,251.31 Z" fill="none" stroke="#a81424" stroke-width="1.05" stroke-linejoin="miter"/>
<path d="M157.50,247.86 L160.60,254.06 L154.40,254.06 Z" fill="none" stroke="#a81424" stroke-width="1.05" stroke-linejoin="miter"/>
<path d="M165.33,241.30 L168.43,247.50 L162.23,247.50 Z" fill="none" stroke="#a81424" stroke-width="1.05" stroke-linejoin="miter"/>
<path d="M173.15,243.16 L176.25,249.36 L170.05,249.36 Z" fill="none" stroke="#a81424" stroke-width="1.05" stroke-linejoin="miter"/>
<path d="M180.97,236.33 L184.07,242.53 L177.87,242.53 Z" fill="none" stroke="#a81424" stroke-width="1.05" stroke-linejoin="miter"/>
<path d="M188.79,240.85 L191.89,247.05 L185.69,247.05 Z" fill="none" stroke="#a81424" stroke-width="1.05" stroke-linejoin="miter"/>
<path d="M196.62,240.43 L199.72,246.63 L193.52,246.63 Z" fill="none" stroke="#a81424" stroke-width="1.05" stroke-linejoin="miter"/>
<path d="M204.44,236.57 L207.54,242.77 L201.34,242.77 Z" fill="none" stroke="#a81424" stroke-width="1.05" stroke-linejoin="miter"/>
<path d="M212.26,238.43 L215.36,244.63 L209.16,244.63 Z" fill="none" stroke="#a81424" stroke-width="1.05" stroke-linejoin="miter"/>
<path d="M220.09,235.39 L223.19,241.59 L216.99,241.59 Z" fill="none" stroke="#a81424" stroke-width="1.05" stroke-linejoin="miter"/>
<path d="M227.91,225.35 L231.01,231.55 L224.81,231.55 Z" fill="none" stroke="#a81424" stroke-width="1.05" stroke-linejoin="miter"/>
<path d="M235.73,226.36 L238.83,232.56 L232.63,232.56 Z" fill="none" stroke="#a81424" stroke-width="1.05" stroke-linejoin="miter"/>
<path d="M243.55,226.31 L246.65,232.51 L240.45,232.51 Z" fill="none" stroke="#a81424" stroke-width="1.05" stroke-linejoin="miter"/>
<path d="M251.38,217.49 L254.48,223.69 L248.28,223.69 Z" fill="none" stroke="#a81424" stroke-width="1.05" stroke-linejoin="miter"/>
<path d="M259.20,213.50 L262.30,219.70 L256.10,219.70 Z" fill="none" stroke="#a81424" stroke-width="1.05" stroke-linejoin="miter"/>
<path d="M267.02,208.49 L270.12,214.69 L263.92,214.69 Z" fill="none" stroke="#a81424" stroke-width="1.05" stroke-linejoin="miter"/>
<path d="M274.84,203.99 L277.94,210.19 L271.74,210.19 Z" fill="none" stroke="#a81424" stroke-width="1.05" stroke-linejoin="miter"/>
<path d="M282.67,199.86 L285.77,206.06 L279.57,206.06 Z" fill="none" stroke="#a81424" stroke-width="1.05" stroke-linejoin="miter"/>
<path d="M290.49,193.91 L293.59,200.11 L287.39,200.11 Z" fill="none" stroke="#a81424" stroke-width="1.05" stroke-linejoin="miter"/>
<path d="M298.31,187.22 L301.41,193.42 L295.21,193.42 Z" fill="none" stroke="#a81424" stroke-width="1.05" stroke-linejoin="miter"/>
<path d="M306.13,183.70 L309.23,189.90 L303.03,189.90 Z" fill="none" stroke="#a81424" stroke-width="1.05" stroke-linejoin="miter"/>
<path d="M313.96,177.21 L317.06,183.41 L310.86,183.41 Z" fill="none" stroke="#a81424" stroke-width="1.05" stroke-linejoin="miter"/>
<path d="M321.78,171.07 L324.88,177.27 L318.68,177.27 Z" fill="none" stroke="#a81424" stroke-width="1.05" stroke-linejoin="miter"/>
<path d="M329.60,162.84 L332.70,169.04 L326.50,169.04 Z" fill="none" stroke="#a81424" stroke-width="1.05" stroke-linejoin="miter"/>
<path d="M337.42,152.52 L340.52,158.72 L334.32,158.72 Z" fill="none" stroke="#a81424" stroke-width="1.05" stroke-linejoin="miter"/>
<path d="M345.25,140.56 L348.35,146.76 L342.15,146.76 Z" fill="none" stroke="#a81424" stroke-width="1.05" stroke-linejoin="miter"/>
<path d="M353.07,125.76 L356.17,131.96 L349.97,131.96 Z" fill="none" stroke="#a81424" stroke-width="1.05" stroke-linejoin="miter"/>
<path d="M360.89,103.42 L363.99,109.62 L357.79,109.62 Z" fill="none" stroke="#a81424" stroke-width="1.05" stroke-linejoin="miter"/>
</g>
<g clip-path="url(#cm)">
<path d="M55.81,265.69 L63.63,257.65 L71.46,265.83 L79.28,269.89 L87.10,260.55 L94.92,260.59 L102.75,266.29 L110.57,261.34 L118.39,273.33 L126.21,260.46 L134.04,254.00 L141.86,251.27 L149.68,258.71 L157.50,255.39 L165.33,255.46 L173.15,251.91 L180.97,249.28 L188.79,249.54 L196.62,248.10 L204.44,243.17 L212.26,242.52 L220.09,237.85 L227.91,235.93 L235.73,235.93 L243.55,235.79 L251.38,229.09 L259.20,220.44 L267.02,219.72 L274.84,217.20 L282.67,210.18 L290.49,206.57 L298.31,200.22 L306.13,193.12 L313.96,188.29 L321.78,180.64 L329.60,170.06 L337.42,161.07 L345.25,147.33 L353.07,129.26 L360.89,100.63" fill="none" stroke="#ff7326" stroke-width="1.0" stroke-dasharray="4,2,1,2" stroke-linejoin="round"/>
<path d="M55.81,262.32 L55.81,269.60 M54.31,262.32 L57.31,262.32 M54.31,269.60 L57.31,269.60" stroke="#ff7326" stroke-width="1" stroke-dasharray="2,1.5" fill="none"/>
<path d="M63.63,254.75 L63.63,260.94 M62.13,254.75 L65.13,254.75 M62.13,260.94 L65.13,260.94" stroke="#ff7326" stroke-width="1" stroke-dasharray="2,1.5" fill="none"/>
<path d="M71.46,262.44 L71.46,269.75 M69.96,262.44 L72.96,262.44 M69.96,269.75 L72.96,269.75" stroke="#ff7326" stroke-width="1" stroke-dasharray="2,1.5" fill="none"/>
<path d="M79.28,266.24 L79.28,274.19 M77.78,266.24 L80.78,266.24 M77.78,274.19 L80.78,274.19" stroke="#ff7326" stroke-width="1" stroke-dasharray="2,1.5" fill="none"/>
<path d="M87.10,257.49 L87.10,264.05 M85.60,257.49 L88.60,257.49 M85.60,264.05 L88.60,264.05" stroke="#ff7326" stroke-width="1" stroke-dasharray="2,1.5" fill="none"/>
<path d="M94.92,257.52 L94.92,264.09 M93.42,257.52 L96.42,257.52 M93.42,264.09 L96.42,264.09" stroke="#ff7326" stroke-width="1" stroke-dasharray="2,1.5" fill="none"/>
<path d="M102.75,262.87 L102.75,270.25 M101.25,262.87 L104.25,262.87 M101.25,270.25 L104.25,270.25" stroke="#ff7326" stroke-width="1" stroke-dasharray="2,1.5" fill="none"/>
<path d="M110.57,258.23 L110.57,264.90 M109.07,258.23 L112.07,258.23 M109.07,264.90 L112.07,264.90" stroke="#ff7326" stroke-width="1" stroke-dasharray="2,1.5" fill="none"/>
<path d="M118.39,269.43 L118.39,277.96 M116.89,269.43 L119.89,269.43 M116.89,277.96 L119.89,277.96" stroke="#ff7326" stroke-width="1" stroke-dasharray="2,1.5" fill="none"/>
<path d="M126.21,257.41 L126.21,263.96 M124.71,257.41 L127.71,257.41 M124.71,263.96 L127.71,263.96" stroke="#ff7326" stroke-width="1" stroke-dasharray="2,1.5" fill="none"/>
<path d="M134.04,251.30 L134.04,257.04 M132.54,251.30 L135.54,251.30 M132.54,257.04 L135.54,257.04" stroke="#ff7326" stroke-width="1" stroke-dasharray="2,1.5" fill="none"/>
<path d="M141.86,248.70 L141.86,254.13 M140.36,248.70 L143.36,248.70 M140.36,254.13 L143.36,254.13" stroke="#ff7326" stroke-width="1" stroke-dasharray="2,1.5" fill="none"/>
<path d="M149.68,255.75 L149.68,262.07 M148.18,255.75 L151.18,255.75 M148.18,262.07 L151.18,262.07" stroke="#ff7326" stroke-width="1" stroke-dasharray="2,1.5" fill="none"/>
<path d="M157.50,252.61 L157.50,258.52 M156.00,252.61 L159.00,252.61 M156.00,258.52 L159.00,258.52" stroke="#ff7326" stroke-width="1" stroke-dasharray="2,1.5" fill="none"/>
<path d="M165.33,252.68 L165.33,258.59 M163.83,252.68 L166.83,252.68 M163.83,258.59 L166.83,258.59" stroke="#ff7326" stroke-width="1" stroke-dasharray="2,1.5" fill="none"/>
<path d="M173.15,249.31 L173.15,254.81 M171.65,249.31 L174.65,249.31 M171.65,254.81 L174.65,254.81" stroke="#ff7326" stroke-width="1" stroke-dasharray="2,1.5" fill="none"/>
<path d="M180.97,246.81 L180.97,252.02 M179.47,246.81 L182.47,246.81 M179.47,252.02 L182.47,252.02" stroke="#ff7326" stroke-width="1" stroke-dasharray="2,1.5" fill="none"/>
<path d="M188.79,247.06 L188.79,252.30 M187.29,247.06 L190.29,247.06 M187.29,252.30 L190.29,252.30" stroke="#ff7326" stroke-width="1" stroke-dasharray="2,1.5" fill="none"/>
<path d="M196.62,245.69 L196.62,250.78 M195.12,245.69 L198.12,245.69 M195.12,250.78 L198.12,250.78" stroke="#ff7326" stroke-width="1" stroke-dasharray="2,1.5" fill="none"/>
<path d="M204.44,240.97 L204.44,245.58 M202.94,240.97 L205.94,240.97 M202.94,245.58 L205.94,245.58" stroke="#ff7326" stroke-width="1" stroke-dasharray="2,1.5" fill="none"/>
<path d="M212.26,240.35 L212.26,244.90 M210.76,240.35 L213.76,240.35 M210.76,244.90 L213.76,244.90" stroke="#ff7326" stroke-width="1" stroke-dasharray="2,1.5" fill="none"/>
<path d="M220.09,235.87 L220.09,240.00 M218.59,235.87 L221.59,235.87 M218.59,240.00 L221.59,240.00" stroke="#ff7326" stroke-width="1" stroke-dasharray="2,1.5" fill="none"/>
<path d="M227.91,234.02 L227.91,237.99 M226.41,234.02 L229.41,234.02 M226.41,237.99 L229.41,237.99" stroke="#ff7326" stroke-width="1" stroke-dasharray="2,1.5" fill="none"/>
<path d="M235.73,234.02 L235.73,237.99 M234.23,234.02 L237.23,234.02 M234.23,237.99 L237.23,237.99" stroke="#ff7326" stroke-width="1" stroke-dasharray="2,1.5" fill="none"/>
<path d="M243.55,233.89 L243.55,237.85 M242.05,233.89 L245.05,233.89 M242.05,237.85 L245.05,237.85" stroke="#ff7326" stroke-width="1" stroke-dasharray="2,1.5" fill="none"/>
<path d="M251.38,227.42 L251.38,230.88 M249.88,227.42 L252.88,227.42 M249.88,230.88 L252.88,230.88" stroke="#ff7326" stroke-width="1" stroke-dasharray="2,1.5" fill="none"/>
<path d="M259.20,219.03 L259.20,221.94 M257.70,219.03 L260.70,219.03 M257.70,221.94 L260.70,221.94" stroke="#ff7326" stroke-width="1" stroke-dasharray="2,1.5" fill="none"/>
<path d="M267.02,218.33 L267.02,221.19 M265.52,218.33 L268.52,218.33 M265.52,221.19 L268.52,221.19" stroke="#ff7326" stroke-width="1" stroke-dasharray="2,1.5" fill="none"/>
<path d="M274.84,215.87 L274.84,218.59 M273.34,215.87 L276.34,215.87 M273.34,218.59 L276.34,218.59" stroke="#ff7326" stroke-width="1" stroke-dasharray="2,1.5" fill="none"/>
<path d="M282.67,209.03 L282.67,211.39 M281.17,209.03 L284.17,209.03 M281.17,211.39 L284.17,211.39" stroke="#ff7326" stroke-width="1" stroke-dasharray="2,1.5" fill="none"/>
<path d="M290.49,205.50 L290.49,207.69 M288.99,205.50 L291.99,205.50 M288.99,207.69 L291.99,207.69" stroke="#ff7326" stroke-width="1" stroke-dasharray="2,1.5" fill="none"/>
<path d="M298.31,199.28 L298.31,201.21 M296.81,199.28 L299.81,199.28 M296.81,201.21 L299.81,201.21" stroke="#ff7326" stroke-width="1" stroke-dasharray="2,1.5" fill="none"/>
<path d="M306.13,192.30 L306.13,193.97 M304.63,192.30 L307.63,192.30 M304.63,193.97 L307.63,193.97" stroke="#ff7326" stroke-width="1" stroke-dasharray="2,1.5" fill="none"/>
<path d="M313.96,187.55 L313.96,189.06 M312.46,187.55 L315.46,187.55 M312.46,189.06 L315.46,189.06" stroke="#ff7326" stroke-width="1" stroke-dasharray="2,1.5" fill="none"/>
<path d="M321.78,180.00 L321.78,181.29 M320.28,180.00 L323.28,180.00 M320.28,181.29 L323.28,181.29" stroke="#ff7326" stroke-width="1" stroke-dasharray="2,1.5" fill="none"/>
<path d="M329.60,169.54 L329.60,170.59 M328.10,169.54 L331.10,169.54 M328.10,170.59 L331.10,170.59" stroke="#ff7326" stroke-width="1" stroke-dasharray="2,1.5" fill="none"/>
<path d="M337.42,160.63 L337.42,161.51 M335.92,160.63 L338.92,160.63 M335.92,161.51 L338.92,161.51" stroke="#ff7326" stroke-width="1" stroke-dasharray="2,1.5" fill="none"/>
<path d="M345.25,147.00 L345.25,147.66 M343.75,147.00 L346.75,147.00 M343.75,147.66 L346.75,147.66" stroke="#ff7326" stroke-width="1" stroke-dasharray="2,1.5" fill="none"/>
<path d="M353.07,129.03 L353.07,129.49 M351.57,129.03 L354.57,129.03 M351.57,129.49 L354.57,129.49" stroke="#ff7326" stroke-width="1" stroke-dasharray="2,1.5" fill="none"/>
<path d="M360.89,100.50 L360.89,100.76 M359.39,100.50 L362.39,100.50 M359.39,100.76 L362.39,100.76" stroke="#ff7326" stroke-width="1" stroke-dasharray="2,1.5" fill="none"/>
<rect x="53.41" y="263.29" width="4.8" height="4.8" fill="#ff7326" stroke="none"/>
<rect x="61.23" y="255.25" width="4.8" height="4.8" fill="#ff7326" stroke="none"/>
<rect x="69.06" y="263.43" width="4.8" height="4.8" fill="#ff7326" stroke="none"/>
<rect x="76.88" y="267.49" width="4.8" height="4.8" fill="#ff7326" stroke="none"/>
<rect x="84.70" y="258.15" width="4.8" height="4.8" fill="#ff7326" stroke="none"/>
<rect x="92.52" y="258.19" width="4.8" height="4.8" fill="#ff7326" stroke="none"/>
<rect x="100.35" y="263.89" width="4.8" height="4.8" fill="#ff7326" stroke="none"/>
<rect x="108.17" y="258.94" width="4.8" height="4.8" fill="#ff7326" stroke="none"/>
<rect x="115.99" y="270.93" width="4.8" height="4.8" fill="#ff7326" stroke="none"/>
<rect x="123.81" y="258.06" width="4.8" height="4.8" fill="#ff7326" stroke="none"/>
<rect x="131.64" y="251.60" width="4.8" height="4.8" fill="#ff7326" stroke="none"/>
<rect x="139.46" y="248.87" width="4.8" height="4.8" fill="#ff7326" stroke="none"/>
<rect x="147.28" y="256.31" width="4.8" height="4.8" fill="#ff7326" stroke="none"/>
<rect x="155.10" y="252.99" width="4.8" height="4.8" fill="#ff7326" stroke="none"/>
<rect x="162.93" y="253.06" width="4.8" height="4.8" fill="#ff7326" stroke="none"/>
<rect x="170.75" y="249.51" width="4.8" height="4.8" fill="#ff7326" stroke="none"/>
<rect x="178.57" y="246.88" width="4.8" height="4.8" fill="#ff7326" stroke="none"/>
<rect x="186.39" y="247.14" width="4.8" height="4.8" fill="#ff7326" stroke="none"/>
<rect x="194.22" y="245.70" width="4.8" height="4.8" fill="#ff7326" stroke="none"/>
<rect x="202.04" y="240.77" width="4.8" height="4.8" fill="#ff7326" stroke="none"/>
<rect x="209.86" y="240.12" width="4.8" height="4.8" fill="#ff7326" stroke="none"/>
<rect x="217.69" y="235.45" width="4.8" height="4.8" fill="#ff7326" stroke="none"/>
<rect x="225.51" y="233.53" width="4.8" height="4.8" fill="#ff7326" stroke="none"/>
<rect x="233.33" y="233.53" width="4.8" height="4.8" fill="#ff7326" stroke="none"/>
<rect x="241.15" y="233.39" width="4.8" height="4.8" fill="#ff7326" stroke="none"/>
<rect x="248.98" y="226.69" width="4.8" height="4.8" fill="#ff7326" stroke="none"/>
<rect x="256.80" y="218.04" width="4.8" height="4.8" fill="#ff7326" stroke="none"/>
<rect x="264.62" y="217.32" width="4.8" height="4.8" fill="#ff7326" stroke="none"/>
<rect x="272.44" y="214.80" width="4.8" height="4.8" fill="#ff7326" stroke="none"/>
<rect x="280.27" y="207.78" width="4.8" height="4.8" fill="#ff7326" stroke="none"/>
<rect x="288.09" y="204.17" width="4.8" height="4.8" fill="#ff7326" stroke="none"/>
<rect x="295.91" y="197.82" width="4.8" height="4.8" fill="#ff7326" stroke="none"/>
<rect x="303.73" y="190.72" width="4.8" height="4.8" fill="#ff7326" stroke="none"/>
<rect x="311.56" y="185.89" width="4.8" height="4.8" fill="#ff7326" stroke="none"/>
<rect x="319.38" y="178.24" width="4.8" height="4.8" fill="#ff7326" stroke="none"/>
<rect x="327.20" y="167.66" width="4.8" height="4.8" fill="#ff7326" stroke="none"/>
<rect x="335.02" y="158.67" width="4.8" height="4.8" fill="#ff7326" stroke="none"/>
<rect x="342.85" y="144.93" width="4.8" height="4.8" fill="#ff7326" stroke="none"/>
<rect x="350.67" y="126.86" width="4.8" height="4.8" fill="#ff7326" stroke="none"/>
<rect x="358.49" y="98.23" width="4.8" height="4.8" fill="#ff7326" stroke="none"/>
</g>
<g clip-path="url(#cm)">
<path d="M55.81,270.60 L63.63,266.20 L71.46,257.90 L79.28,270.60 L87.10,252.20 L94.92,254.10 L102.75,260.00 L110.57,263.20 L118.39,251.10 L126.21,255.50 L134.04,256.60 L141.86,255.50 L149.68,253.80 L157.50,255.70 L165.33,245.50 L173.15,252.50 L180.97,239.80 L188.79,241.70 L196.62,243.90 L204.44,237.50 L212.26,237.50 L220.09,239.40 L227.91,232.40 L235.73,230.20 L243.55,228.40 L251.38,222.60 L259.20,217.00 L267.02,212.50 L274.84,209.10 L282.67,204.60 L290.49,197.60 L298.31,194.30 L306.13,188.10 L313.96,182.20 L321.78,172.40 L329.60,163.60 L337.42,154.10 L345.25,141.60 L353.07,126.30 L360.89,102.80" fill="none" stroke="#0000ff" stroke-width="1.2" stroke-dasharray="none" stroke-linejoin="round"/>
<path d="M55.81,265.62 L55.81,276.83 M54.31,265.62 L57.31,265.62 M54.31,276.83 L57.31,276.83" stroke="#0000ff" stroke-width="1" stroke-dasharray="none" fill="none"/>
<path d="M63.63,261.61 L63.63,271.84 M62.13,261.61 L65.13,261.61 M62.13,271.84 L65.13,271.84" stroke="#0000ff" stroke-width="1" stroke-dasharray="none" fill="none"/>
<path d="M71.46,253.97 L71.46,262.58 M69.96,253.97 L72.96,253.97 M69.96,262.58 L72.96,262.58" stroke="#0000ff" stroke-width="1" stroke-dasharray="none" fill="none"/>
<path d="M79.28,265.62 L79.28,276.83 M77.78,265.62 L80.78,265.62 M77.78,276.83 L80.78,276.83" stroke="#0000ff" stroke-width="1" stroke-dasharray="none" fill="none"/>
<path d="M87.10,248.67 L87.10,256.33 M85.60,248.67 L88.60,248.67 M85.60,256.33 L88.60,256.33" stroke="#0000ff" stroke-width="1" stroke-dasharray="none" fill="none"/>
<path d="M94.92,250.44 L94.92,258.40 M93.42,250.44 L96.42,250.44 M93.42,258.40 L96.42,258.40" stroke="#0000ff" stroke-width="1" stroke-dasharray="none" fill="none"/>
<path d="M102.75,255.91 L102.75,264.90 M101.25,255.91 L104.25,255.91 M101.25,264.90 L104.25,264.90" stroke="#0000ff" stroke-width="1" stroke-dasharray="none" fill="none"/>
<path d="M110.57,258.86 L110.57,268.47 M109.07,258.86 L112.07,258.86 M109.07,268.47 L112.07,268.47" stroke="#0000ff" stroke-width="1" stroke-dasharray="none" fill="none"/>
<path d="M118.39,247.64 L118.39,255.13 M116.89,247.64 L119.89,247.64 M116.89,255.13 L119.89,255.13" stroke="#0000ff" stroke-width="1" stroke-dasharray="none" fill="none"/>
<path d="M126.21,251.74 L126.21,259.94 M124.71,251.74 L127.71,251.74 M124.71,259.94 L127.71,259.94" stroke="#0000ff" stroke-width="1" stroke-dasharray="none" fill="none"/>
<path d="M134.04,252.76 L134.04,261.15 M132.54,252.76 L135.54,252.76 M132.54,261.15 L135.54,261.15" stroke="#0000ff" stroke-width="1" stroke-dasharray="none" fill="none"/>
<path d="M141.86,251.74 L141.86,259.94 M140.36,251.74 L143.36,251.74 M140.36,259.94 L143.36,259.94" stroke="#0000ff" stroke-width="1" stroke-dasharray="none" fill="none"/>
<path d="M149.68,250.16 L149.68,258.07 M148.18,250.16 L151.18,250.16 M148.18,258.07 L151.18,258.07" stroke="#0000ff" stroke-width="1" stroke-dasharray="none" fill="none"/>
<path d="M157.50,251.92 L157.50,260.16 M156.00,251.92 L159.00,251.92 M156.00,260.16 L159.00,260.16" stroke="#0000ff" stroke-width="1" stroke-dasharray="none" fill="none"/>
<path d="M165.33,242.39 L165.33,249.06 M163.83,242.39 L166.83,242.39 M163.83,249.06 L166.83,249.06" stroke="#0000ff" stroke-width="1" stroke-dasharray="none" fill="none"/>
<path d="M173.15,248.95 L173.15,256.65 M171.65,248.95 L174.65,248.95 M171.65,256.65 L174.65,256.65" stroke="#0000ff" stroke-width="1" stroke-dasharray="none" fill="none"/>
<path d="M180.97,237.01 L180.97,242.95 M179.47,237.01 L182.47,237.01 M179.47,242.95 L182.47,242.95" stroke="#0000ff" stroke-width="1" stroke-dasharray="none" fill="none"/>
<path d="M188.79,238.80 L188.79,244.98 M187.29,238.80 L190.29,238.80 M187.29,244.98 L190.29,244.98" stroke="#0000ff" stroke-width="1" stroke-dasharray="none" fill="none"/>
<path d="M196.62,240.88 L196.62,247.34 M195.12,240.88 L198.12,240.88 M195.12,247.34 L198.12,247.34" stroke="#0000ff" stroke-width="1" stroke-dasharray="none" fill="none"/>
<path d="M204.44,234.83 L204.44,240.50 M202.94,234.83 L205.94,234.83 M202.94,240.50 L205.94,240.50" stroke="#0000ff" stroke-width="1" stroke-dasharray="none" fill="none"/>
<path d="M212.26,234.83 L212.26,240.50 M210.76,234.83 L213.76,234.83 M210.76,240.50 L213.76,240.50" stroke="#0000ff" stroke-width="1" stroke-dasharray="none" fill="none"/>
<path d="M220.09,236.63 L220.09,242.52 M218.59,236.63 L221.59,236.63 M218.59,242.52 L221.59,242.52" stroke="#0000ff" stroke-width="1" stroke-dasharray="none" fill="none"/>
<path d="M227.91,229.98 L227.91,235.09 M226.41,229.98 L229.41,229.98 M226.41,235.09 L229.41,235.09" stroke="#0000ff" stroke-width="1" stroke-dasharray="none" fill="none"/>
<path d="M235.73,227.88 L235.73,232.76 M234.23,227.88 L237.23,227.88 M234.23,232.76 L237.23,232.76" stroke="#0000ff" stroke-width="1" stroke-dasharray="none" fill="none"/>
<path d="M243.55,226.16 L243.55,230.87 M242.05,226.16 L245.05,226.16 M242.05,230.87 L245.05,230.87" stroke="#0000ff" stroke-width="1" stroke-dasharray="none" fill="none"/>
<path d="M251.38,220.59 L251.38,224.78 M249.88,220.59 L252.88,220.59 M249.88,224.78 L252.88,224.78" stroke="#0000ff" stroke-width="1" stroke-dasharray="none" fill="none"/>
<path d="M259.20,215.20 L259.20,218.94 M257.70,215.20 L260.70,215.20 M257.70,218.94 L260.70,218.94" stroke="#0000ff" stroke-width="1" stroke-dasharray="none" fill="none"/>
<path d="M267.02,210.85 L267.02,214.26 M265.52,210.85 L268.52,210.85 M265.52,214.26 L268.52,214.26" stroke="#0000ff" stroke-width="1" stroke-dasharray="none" fill="none"/>
<path d="M274.84,207.56 L274.84,210.74 M273.34,207.56 L276.34,207.56 M273.34,210.74 L276.34,210.74" stroke="#0000ff" stroke-width="1" stroke-dasharray="none" fill="none"/>
<path d="M282.67,203.19 L282.67,206.10 M281.17,203.19 L284.17,203.19 M281.17,206.10 L284.17,206.10" stroke="#0000ff" stroke-width="1" stroke-dasharray="none" fill="none"/>
<path d="M290.49,196.37 L290.49,198.89 M288.99,196.37 L291.99,196.37 M288.99,198.89 L291.99,198.89" stroke="#0000ff" stroke-width="1" stroke-dasharray="none" fill="none"/>
<path d="M298.31,193.15 L298.31,195.51 M296.81,193.15 L299.81,193.15 M296.81,195.51 L299.81,195.51" stroke="#0000ff" stroke-width="1" stroke-dasharray="none" fill="none"/>
<path d="M306.13,187.08 L306.13,189.16 M304.63,187.08 L307.63,187.08 M304.63,189.16 L307.63,189.16" stroke="#0000ff" stroke-width="1" stroke-dasharray="none" fill="none"/>
<path d="M313.96,181.29 L313.96,183.14 M312.46,181.29 L315.46,181.29 M312.46,183.14 L315.46,183.14" stroke="#0000ff" stroke-width="1" stroke-dasharray="none" fill="none"/>
<path d="M321.78,171.65 L321.78,173.17 M320.28,171.65 L323.28,171.65 M320.28,173.17 L323.28,173.17" stroke="#0000ff" stroke-width="1" stroke-dasharray="none" fill="none"/>
<path d="M329.60,162.97 L329.60,164.24 M328.10,162.97 L331.10,162.97 M328.10,164.24 L331.10,164.24" stroke="#0000ff" stroke-width="1" stroke-dasharray="none" fill="none"/>
<path d="M337.42,153.58 L337.42,154.63 M335.92,153.58 L338.92,153.58 M335.92,154.63 L338.92,154.63" stroke="#0000ff" stroke-width="1" stroke-dasharray="none" fill="none"/>
<path d="M345.25,141.20 L345.25,142.01 M343.75,141.20 L346.75,141.20 M343.75,142.01 L346.75,142.01" stroke="#0000ff" stroke-width="1" stroke-dasharray="none" fill="none"/>
<path d="M353.07,126.00 L353.07,126.60 M351.57,126.00 L354.57,126.00 M351.57,126.60 L354.57,126.60" stroke="#0000ff" stroke-width="1" stroke-dasharray="none" fill="none"/>
<path d="M360.89,102.62 L360.89,102.99 M359.39,102.62 L362.39,102.62 M359.39,102.99 L362.39,102.99" stroke="#0000ff" stroke-width="1" stroke-dasharray="none" fill="none"/>
<path d="M55.81,267.40 L58.71,272.90 L52.91,272.90 Z" fill="#0000ff" stroke="#0000ff" stroke-width="0.5"/>
<path d="M63.63,263.00 L66.53,268.50 L60.73,268.50 Z" fill="#0000ff" stroke="#0000ff" stroke-width="0.5"/>
<path d="M71.46,254.70 L74.36,260.20 L68.56,260.20 Z" fill="#0000ff" stroke="#0000ff" stroke-width="0.5"/>
<path d="M79.28,267.40 L82.18,272.90 L76.38,272.90 Z" fill="#0000ff" stroke="#0000ff" stroke-width="0.5"/>
<path d="M87.10,249.00 L90.00,254.50 L84.20,254.50 Z" fill="#0000ff" stroke="#0000ff" stroke-width="0.5"/>
<path d="M94.92,250.90 L97.82,256.40 L92.02,256.40 Z" fill="#0000ff" stroke="#0000ff" stroke-width="0.5"/>
<path d="M102.75,256.80 L105.65,262.30 L99.85,262.30 Z" fill="#0000ff" stroke="#0000ff" stroke-width="0.5"/>
<path d="M110.57,260.00 L113.47,265.50 L107.67,265.50 Z" fill="#0000ff" stroke="#0000ff" stroke-width="0.5"/>
<path d="M118.39,247.90 L121.29,253.40 L115.49,253.40 Z" fill="#0000ff" stroke="#0000ff" stroke-width="0.5"/>
<path d="M126.21,252.30 L129.11,257.80 L123.31,257.80 Z" fill="#0000ff" stroke="#0000ff" stroke-width="0.5"/>
<path d="M134.04,253.40 L136.94,258.90 L131.14,258.90 Z" fill="#0000ff" stroke="#0000ff" stroke-width="0.5"/>
<path d="M141.86,252.30 L144.76,257.80 L138.96,257.80 Z" fill="#0000ff" stroke="#0000ff" stroke-width="0.5"/>
<path d="M149.68,250.60 L152.58,256.10 L146.78,256.10 Z" fill="#0000ff" stroke="#0000ff" stroke-width="0.5"/>
<path d="M157.50,252.50 L160.40,258.00 L154.60,258.00 Z" fill="#0000ff" stroke="#0000ff" stroke-width="0.5"/>
<path d="M165.33,242.30 L168.23,247.80 L162.43,247.80 Z" fill="#0000ff" stroke="#0000ff" stroke-width="0.5"/>
<path d="M173.15,249.30 L176.05,254.80 L170.25,254.80 Z" fill="#0000ff" stroke="#0000ff" stroke-width="0.5"/>
<path d="M180.97,236.60 L183.87,242.10 L178.07,242.10 Z" fill="#0000ff" stroke="#0000ff" stroke-width="0.5"/>
<path d="M188.79,238.50 L191.69,244.00 L185.89,244.00 Z" fill="#0000ff" stroke="#0000ff" stroke-width="0.5"/>
<path d="M196.62,240.70 L199.52,246.20 L193.72,246.20 Z" fill="#0000ff" stroke="#0000ff" stroke-width="0.5"/>
<path d="M204.44,234.30 L207.34,239.80 L201.54,239.80 Z" fill="#0000ff" stroke="#0000ff" stroke-width="0.5"/>
<path d="M212.26,234.30 L215.16,239.80 L209.36,239.80 Z" fill="#0000ff" stroke="#0000ff" stroke-width="0.5"/>
<path d="M220.09,236.20 L222.99,241.70 L217.19,241.70 Z" fill="#0000ff" stroke="#0000ff" stroke-width="0.5"/>
<path d="M227.91,229.20 L230.81,234.70 L225.01,234.70 Z" fill="#0000ff" stroke="#0000ff" stroke-width="0.5"/>
<path d="M235.73,227.00 L238.63,232.50 L232.83,232.50 Z" fill="#0000ff" stroke="#0000ff" stroke-width="0.5"/>
<path d="M243.55,225.20 L246.45,230.70 L240.65,230.70 Z" fill="#0000ff" stroke="#0000ff" stroke-width="0.5"/>
<path d="M251.38,219.40 L254.28,224.90 L248.48,224.90 Z" fill="#0000ff" stroke="#0000ff" stroke-width="0.5"/>
<path d="M259.20,213.80 L262.10,219.30 L256.30,219.30 Z" fill="#0000ff" stroke="#0000ff" stroke-width="0.5"/>
<path d="M267.02,209.30 L269.92,214.80 L264.12,214.80 Z" fill="#0000ff" stroke="#0000ff" stroke-width="0.5"/>
<path d="M274.84,205.90 L277.74,211.40 L271.94,211.40 Z" fill="#0000ff" stroke="#0000ff" stroke-width="0.5"/>
<path d="M282.67,201.40 L285.57,206.90 L279.77,206.90 Z" fill="#0000ff" stroke="#0000ff" stroke-width="0.5"/>
<path d="M290.49,194.40 L293.39,199.90 L287.59,199.90 Z" fill="#0000ff" stroke="#0000ff" stroke-width="0.5"/>
<path d="M298.31,191.10 L301.21,196.60 L295.41,196.60 Z" fill="#0000ff" stroke="#0000ff" stroke-width="0.5"/>
<path d="M306.13,184.90 L309.03,190.40 L303.23,190.40 Z" fill="#0000ff" stroke="#0000ff" stroke-width="0.5"/>
<path d="M313.96,179.00 L316.86,184.50 L311.06,184.50 Z" fill="#0000ff" stroke="#0000ff" stroke-width="0.5"/>
<path d="M321.78,169.20 L324.68,174.70 L318.88,174.70 Z" fill="#0000ff" stroke="#0000ff" stroke-width="0.5"/>
<path d="M329.60,160.40 L332.50,165.90 L326.70,165.90 Z" fill="#0000ff" stroke="#0000ff" stroke-width="0.5"/>
<path d="M337.42,150.90 L340.32,156.40 L334.52,156.40 Z" fill="#0000ff" stroke="#0000ff" stroke-width="0.5"/>
<path d="M345.25,138.40 L348.15,143.90 L342.35,143.90 Z" fill="#0000ff" stroke="#0000ff" stroke-width="0.5"/>
<path d="M353.07,123.10 L355.97,128.60 L350.17,128.60 Z" fill="#0000ff" stroke="#0000ff" stroke-width="0.5"/>
<path d="M360.89,99.60 L363.79,105.10 L357.99,105.10 Z" fill="#0000ff" stroke="#0000ff" stroke-width="0.5"/>
</g>
<path d="M45.5,397.50 L51.90,397.50 M364.80,397.50 L371.1,397.50" stroke="#000" stroke-width="1.2"/>
<line x1="51.90" y1="397.50" x2="364.80" y2="397.50" stroke="#000" stroke-opacity="0.6" stroke-width="1.2"/>
<g clip-path="url(#cr)">
<path d="M55.81,407.70 L63.63,391.00 L71.46,417.30 L79.28,368.50 L87.10,433.80 L94.92,395.00 L102.75,367.30 L110.57,382.90 L118.39,403.80 L126.21,405.00 L134.04,400.00 L141.86,388.30 L149.68,395.00 L157.50,387.60 L165.33,395.00 L173.15,400.00 L180.97,404.50 L188.79,400.00 L196.62,400.00 L204.44,409.00 L212.26,400.00 L220.09,384.80 L227.91,385.70 L235.73,405.00 L243.55,399.30 L251.38,393.90 L259.20,395.00 L267.02,390.60 L274.84,390.10 L282.67,389.70 L290.49,396.00 L298.31,399.80 L306.13,392.80 L313.96,394.10 L321.78,396.00 L329.60,390.00 L337.42,397.00 L345.25,397.00 L353.07,397.50 L360.89,397.90" fill="none" stroke="#c09438" stroke-width="1.0" stroke-dasharray="1.2,1.5" stroke-linejoin="round"/>
<path d="M55.81,395.19 L55.81,422.29 M54.31,395.19 L57.31,395.19 M54.31,422.29 L57.31,422.29" stroke="#c09438" stroke-width="1" stroke-dasharray="1,1.2" fill="none"/>
<path d="M63.63,380.26 L63.63,403.23 M62.13,380.26 L65.13,380.26 M62.13,403.23 L65.13,403.23" stroke="#c09438" stroke-width="1" stroke-dasharray="1,1.2" fill="none"/>
<path d="M71.46,405.72 L71.46,430.65 M69.96,405.72 L72.96,405.72 M69.96,430.65 L72.96,430.65" stroke="#c09438" stroke-width="1" stroke-dasharray="1,1.2" fill="none"/>
<path d="M79.28,358.82 L79.28,379.38 M77.78,358.82 L80.78,358.82 M77.78,379.38 L80.78,379.38" stroke="#c09438" stroke-width="1" stroke-dasharray="1,1.2" fill="none"/>
<path d="M87.10,421.40 L87.10,448.24 M85.60,421.40 L88.60,421.40 M85.60,448.24 L88.60,448.24" stroke="#c09438" stroke-width="1" stroke-dasharray="1,1.2" fill="none"/>
<path d="M94.92,384.41 L94.92,407.05 M93.42,384.41 L96.42,384.41 M93.42,407.05 L96.42,407.05" stroke="#c09438" stroke-width="1" stroke-dasharray="1,1.2" fill="none"/>
<path d="M102.75,357.50 L102.75,378.34 M101.25,357.50 L104.25,357.50 M101.25,378.34 L104.25,378.34" stroke="#c09438" stroke-width="1" stroke-dasharray="1,1.2" fill="none"/>
<path d="M110.57,373.16 L110.57,393.85 M109.07,373.16 L112.07,373.16 M109.07,393.85 L112.07,393.85" stroke="#c09438" stroke-width="1" stroke-dasharray="1,1.2" fill="none"/>
<path d="M118.39,393.37 L118.39,415.64 M116.89,393.37 L119.89,393.37 M116.89,415.64 L119.89,415.64" stroke="#c09438" stroke-width="1" stroke-dasharray="1,1.2" fill="none"/>
<path d="M126.21,395.34 L126.21,415.86 M124.71,395.34 L127.71,395.34 M124.71,415.86 L127.71,415.86" stroke="#c09438" stroke-width="1" stroke-dasharray="1,1.2" fill="none"/>
<path d="M134.04,390.21 L134.04,411.02 M132.54,390.21 L135.54,390.21 M132.54,411.02 L135.54,411.02" stroke="#c09438" stroke-width="1" stroke-dasharray="1,1.2" fill="none"/>
<path d="M141.86,379.51 L141.86,398.07 M140.36,379.51 L143.36,379.51 M140.36,398.07 L143.36,398.07" stroke="#c09438" stroke-width="1" stroke-dasharray="1,1.2" fill="none"/>
<path d="M149.68,385.50 L149.68,405.66 M148.18,385.50 L151.18,385.50 M148.18,405.66 L151.18,405.66" stroke="#c09438" stroke-width="1" stroke-dasharray="1,1.2" fill="none"/>
<path d="M157.50,379.39 L157.50,396.66 M156.00,379.39 L159.00,379.39 M156.00,396.66 L159.00,396.66" stroke="#c09438" stroke-width="1" stroke-dasharray="1,1.2" fill="none"/>
<path d="M165.33,386.53 L165.33,404.38 M163.83,386.53 L166.83,386.53 M163.83,404.38 L166.83,404.38" stroke="#c09438" stroke-width="1" stroke-dasharray="1,1.2" fill="none"/>
<path d="M173.15,391.37 L173.15,409.57 M171.65,391.37 L174.65,391.37 M171.65,409.57 L174.65,409.57" stroke="#c09438" stroke-width="1" stroke-dasharray="1,1.2" fill="none"/>
<path d="M180.97,396.02 L180.97,413.89 M179.47,396.02 L182.47,396.02 M179.47,413.89 L182.47,413.89" stroke="#c09438" stroke-width="1" stroke-dasharray="1,1.2" fill="none"/>
<path d="M188.79,392.31 L188.79,408.43 M187.29,392.31 L190.29,392.31 M187.29,408.43 L190.29,408.43" stroke="#c09438" stroke-width="1" stroke-dasharray="1,1.2" fill="none"/>
<path d="M196.62,392.79 L196.62,407.85 M195.12,392.79 L198.12,392.79 M195.12,407.85 L198.12,407.85" stroke="#c09438" stroke-width="1" stroke-dasharray="1,1.2" fill="none"/>
<path d="M204.44,401.66 L204.44,417.01 M202.94,401.66 L205.94,401.66 M202.94,417.01 L205.94,417.01" stroke="#c09438" stroke-width="1" stroke-dasharray="1,1.2" fill="none"/>
<path d="M212.26,393.14 L212.26,407.44 M210.76,393.14 L213.76,393.14 M210.76,407.44 L213.76,407.44" stroke="#c09438" stroke-width="1" stroke-dasharray="1,1.2" fill="none"/>
<path d="M220.09,378.38 L220.09,391.73 M218.59,378.38 L221.59,378.38 M218.59,391.73 L221.59,391.73" stroke="#c09438" stroke-width="1" stroke-dasharray="1,1.2" fill="none"/>
<path d="M227.91,379.92 L227.91,391.89 M226.41,379.92 L229.41,379.92 M226.41,391.89 L229.41,391.89" stroke="#c09438" stroke-width="1" stroke-dasharray="1,1.2" fill="none"/>
<path d="M235.73,398.85 L235.73,411.62 M234.23,398.85 L237.23,398.85 M234.23,411.62 L237.23,411.62" stroke="#c09438" stroke-width="1" stroke-dasharray="1,1.2" fill="none"/>
<path d="M243.55,394.04 L243.55,404.89 M242.05,394.04 L245.05,394.04 M242.05,404.89 L245.05,404.89" stroke="#c09438" stroke-width="1" stroke-dasharray="1,1.2" fill="none"/>
<path d="M251.38,389.05 L251.38,399.03 M249.88,389.05 L252.88,389.05 M249.88,399.03 L252.88,399.03" stroke="#c09438" stroke-width="1" stroke-dasharray="1,1.2" fill="none"/>
<path d="M259.20,390.66 L259.20,399.56 M257.70,390.66 L260.70,390.66 M257.70,399.56 L260.70,399.56" stroke="#c09438" stroke-width="1" stroke-dasharray="1,1.2" fill="none"/>
<path d="M267.02,386.56 L267.02,394.84 M265.52,386.56 L268.52,386.56 M265.52,394.84 L268.52,394.84" stroke="#c09438" stroke-width="1" stroke-dasharray="1,1.2" fill="none"/>
<path d="M274.84,386.30 L274.84,394.07 M273.34,386.30 L276.34,386.30 M273.34,394.07 L276.34,394.07" stroke="#c09438" stroke-width="1" stroke-dasharray="1,1.2" fill="none"/>
<path d="M282.67,386.33 L282.67,393.20 M281.17,386.33 L284.17,386.33 M281.17,393.20 L284.17,393.20" stroke="#c09438" stroke-width="1" stroke-dasharray="1,1.2" fill="none"/>
<path d="M290.49,392.81 L290.49,399.31 M288.99,392.81 L291.99,392.81 M288.99,399.31 L291.99,399.31" stroke="#c09438" stroke-width="1" stroke-dasharray="1,1.2" fill="none"/>
<path d="M298.31,396.93 L298.31,402.77 M296.81,396.93 L299.81,396.93 M296.81,402.77 L299.81,402.77" stroke="#c09438" stroke-width="1" stroke-dasharray="1,1.2" fill="none"/>
<path d="M306.13,390.34 L306.13,395.33 M304.63,390.34 L307.63,390.34 M304.63,395.33 L307.63,395.33" stroke="#c09438" stroke-width="1" stroke-dasharray="1,1.2" fill="none"/>
<path d="M313.96,391.83 L313.96,396.43 M312.46,391.83 L315.46,391.83 M312.46,396.43 L315.46,396.43" stroke="#c09438" stroke-width="1" stroke-dasharray="1,1.2" fill="none"/>
<path d="M321.78,394.01 L321.78,398.03 M320.28,394.01 L323.28,394.01 M320.28,398.03 L323.28,398.03" stroke="#c09438" stroke-width="1" stroke-dasharray="1,1.2" fill="none"/>
<path d="M329.60,388.43 L329.60,391.60 M328.10,388.43 L331.10,388.43 M328.10,391.60 L331.10,391.60" stroke="#c09438" stroke-width="1" stroke-dasharray="1,1.2" fill="none"/>
<path d="M337.42,395.64 L337.42,398.38 M335.92,395.64 L338.92,395.64 M335.92,398.38 L338.92,398.38" stroke="#c09438" stroke-width="1" stroke-dasharray="1,1.2" fill="none"/>
<path d="M345.25,395.94 L345.25,398.07 M343.75,395.94 L346.75,395.94 M343.75,398.07 L346.75,398.07" stroke="#c09438" stroke-width="1" stroke-dasharray="1,1.2" fill="none"/>
<path d="M353.07,396.72 L353.07,398.29 M351.57,396.72 L354.57,396.72 M351.57,398.29 L354.57,398.29" stroke="#c09438" stroke-width="1" stroke-dasharray="1,1.2" fill="none"/>
<path d="M360.89,397.40 L360.89,398.40 M359.39,397.40 L362.39,397.40 M359.39,398.40 L362.39,398.40" stroke="#c09438" stroke-width="1" stroke-dasharray="1,1.2" fill="none"/>
<rect x="53.26" y="405.15" width="5.1" height="5.1" fill="none" stroke="#c09438" stroke-width="1.2"/>
<rect x="61.08" y="388.45" width="5.1" height="5.1" fill="none" stroke="#c09438" stroke-width="1.2"/>
<rect x="68.91" y="414.75" width="5.1" height="5.1" fill="none" stroke="#c09438" stroke-width="1.2"/>
<rect x="76.73" y="365.95" width="5.1" height="5.1" fill="none" stroke="#c09438" stroke-width="1.2"/>
<rect x="84.55" y="431.25" width="5.1" height="5.1" fill="none" stroke="#c09438" stroke-width="1.2"/>
<rect x="92.37" y="392.45" width="5.1" height="5.1" fill="none" stroke="#c09438" stroke-width="1.2"/>
<rect x="100.20" y="364.75" width="5.1" height="5.1" fill="none" stroke="#c09438" stroke-width="1.2"/>
<rect x="108.02" y="380.35" width="5.1" height="5.1" fill="none" stroke="#c09438" stroke-width="1.2"/>
<rect x="115.84" y="401.25" width="5.1" height="5.1" fill="none" stroke="#c09438" stroke-width="1.2"/>
<rect x="123.66" y="402.45" width="5.1" height="5.1" fill="none" stroke="#c09438" stroke-width="1.2"/>
<rect x="131.49" y="397.45" width="5.1" height="5.1" fill="none" stroke="#c09438" stroke-width="1.2"/>
<rect x="139.31" y="385.75" width="5.1" height="5.1" fill="none" stroke="#c09438" stroke-width="1.2"/>
<rect x="147.13" y="392.45" width="5.1" height="5.1" fill="none" stroke="#c09438" stroke-width="1.2"/>
<rect x="154.95" y="385.05" width="5.1" height="5.1" fill="none" stroke="#c09438" stroke-width="1.2"/>
<rect x="162.78" y="392.45" width="5.1" height="5.1" fill="none" stroke="#c09438" stroke-width="1.2"/>
<rect x="170.60" y="397.45" width="5.1" height="5.1" fill="none" stroke="#c09438" stroke-width="1.2"/>
<rect x="178.42" y="401.95" width="5.1" height="5.1" fill="none" stroke="#c09438" stroke-width="1.2"/>
<rect x="186.24" y="397.45" width="5.1" height="5.1" fill="none" stroke="#c09438" stroke-width="1.2"/>
<rect x="194.07" y="397.45" width="5.1" height="5.1" fill="none" stroke="#c09438" stroke-width="1.2"/>
<rect x="201.89" y="406.45" width="5.1" height="5.1" fill="none" stroke="#c09438" stroke-width="1.2"/>
<rect x="209.71" y="397.45" width="5.1" height="5.1" fill="none" stroke="#c09438" stroke-width="1.2"/>
<rect x="217.54" y="382.25" width="5.1" height="5.1" fill="none" stroke="#c09438" stroke-width="1.2"/>
<rect x="225.36" y="383.15" width="5.1" height="5.1" fill="none" stroke="#c09438" stroke-width="1.2"/>
<rect x="233.18" y="402.45" width="5.1" height="5.1" fill="none" stroke="#c09438" stroke-width="1.2"/>
<rect x="241.00" y="396.75" width="5.1" height="5.1" fill="none" stroke="#c09438" stroke-width="1.2"/>
<rect x="248.83" y="391.35" width="5.1" height="5.1" fill="none" stroke="#c09438" stroke-width="1.2"/>
<rect x="256.65" y="392.45" width="5.1" height="5.1" fill="none" stroke="#c09438" stroke-width="1.2"/>
<rect x="264.47" y="388.05" width="5.1" height="5.1" fill="none" stroke="#c09438" stroke-width="1.2"/>
<rect x="272.29" y="387.55" width="5.1" height="5.1" fill="none" stroke="#c09438" stroke-width="1.2"/>
<rect x="280.12" y="387.15" width="5.1" height="5.1" fill="none" stroke="#c09438" stroke-width="1.2"/>
<rect x="287.94" y="393.45" width="5.1" height="5.1" fill="none" stroke="#c09438" stroke-width="1.2"/>
<rect x="295.76" y="397.25" width="5.1" height="5.1" fill="none" stroke="#c09438" stroke-width="1.2"/>
<rect x="303.58" y="390.25" width="5.1" height="5.1" fill="none" stroke="#c09438" stroke-width="1.2"/>
<rect x="311.41" y="391.55" width="5.1" height="5.1" fill="none" stroke="#c09438" stroke-width="1.2"/>
<rect x="319.23" y="393.45" width="5.1" height="5.1" fill="none" stroke="#c09438" stroke-width="1.2"/>
<rect x="327.05" y="387.45" width="5.1" height="5.1" fill="none" stroke="#c09438" stroke-width="1.2"/>
<rect x="334.87" y="394.45" width="5.1" height="5.1" fill="none" stroke="#c09438" stroke-width="1.2"/>
<rect x="342.70" y="394.45" width="5.1" height="5.1" fill="none" stroke="#c09438" stroke-width="1.2"/>
<rect x="350.52" y="394.95" width="5.1" height="5.1" fill="none" stroke="#c09438" stroke-width="1.2"/>
<rect x="358.34" y="395.35" width="5.1" height="5.1" fill="none" stroke="#c09438" stroke-width="1.2"/>
</g>
<g clip-path="url(#cr)">
<path d="M55.81,388.90 L63.63,410.90 L71.46,414.10 L79.28,373.60 L87.10,417.60 L94.92,389.50 L102.75,373.20 L110.57,389.50 L118.39,411.90 L126.21,425.80 L134.04,385.10 L141.86,385.10 L149.68,376.80 L157.50,406.00 L165.33,384.40 L173.15,392.70 L180.97,376.20 L188.79,405.70 L196.62,416.00 L204.44,408.00 L212.26,418.00 L220.09,404.00 L227.91,388.30 L235.73,400.00 L243.55,422.60 L251.38,400.50 L259.20,407.50 L267.02,398.00 L274.84,392.90 L282.67,399.30 L290.49,394.00 L298.31,392.80 L306.13,401.00 L313.96,393.80 L321.78,397.30 L329.60,403.80 L337.42,399.70 L345.25,402.00 L353.07,403.40 L360.89,403.10" fill="none" stroke="#a81424" stroke-width="1.2" stroke-dasharray="none" stroke-linejoin="round"/>
<path d="M55.81,376.50 L55.81,403.35 M54.31,376.50 L57.31,376.50 M54.31,403.35 L57.31,403.35" stroke="#a81424" stroke-width="1" stroke-dasharray="none" fill="none"/>
<path d="M63.63,397.81 L63.63,426.29 M62.13,397.81 L65.13,397.81 M62.13,426.29 L65.13,426.29" stroke="#a81424" stroke-width="1" stroke-dasharray="none" fill="none"/>
<path d="M71.46,401.62 L71.46,428.66 M69.96,401.62 L72.96,401.62 M69.96,428.66 L72.96,428.66" stroke="#a81424" stroke-width="1" stroke-dasharray="none" fill="none"/>
<path d="M79.28,362.68 L79.28,386.07 M77.78,362.68 L80.78,362.68 M77.78,386.07 L80.78,386.07" stroke="#a81424" stroke-width="1" stroke-dasharray="none" fill="none"/>
<path d="M87.10,405.13 L87.10,432.14 M85.60,405.13 L88.60,405.13 M85.60,432.14 L88.60,432.14" stroke="#a81424" stroke-width="1" stroke-dasharray="none" fill="none"/>
<path d="M94.92,378.22 L94.92,402.45 M93.42,378.22 L96.42,378.22 M93.42,402.45 L96.42,402.45" stroke="#a81424" stroke-width="1" stroke-dasharray="none" fill="none"/>
<path d="M102.75,362.10 L102.75,385.92 M101.25,362.10 L104.25,362.10 M101.25,385.92 L104.25,385.92" stroke="#a81424" stroke-width="1" stroke-dasharray="none" fill="none"/>
<path d="M110.57,378.43 L110.57,402.17 M109.07,378.43 L112.07,378.43 M109.07,402.17 L112.07,402.17" stroke="#a81424" stroke-width="1" stroke-dasharray="none" fill="none"/>
<path d="M118.39,399.95 L118.39,425.74 M116.89,399.95 L119.89,399.95 M116.89,425.74 L119.89,425.74" stroke="#a81424" stroke-width="1" stroke-dasharray="none" fill="none"/>
<path d="M126.21,413.95 L126.21,439.50 M124.71,413.95 L127.71,413.95 M124.71,439.50 L127.71,439.50" stroke="#a81424" stroke-width="1" stroke-dasharray="none" fill="none"/>
<path d="M134.04,375.18 L134.04,396.28 M132.54,375.18 L135.54,375.18 M132.54,396.28 L135.54,396.28" stroke="#a81424" stroke-width="1" stroke-dasharray="none" fill="none"/>
<path d="M141.86,375.62 L141.86,395.73 M140.36,375.62 L143.36,375.62 M140.36,395.73 L143.36,395.73" stroke="#a81424" stroke-width="1" stroke-dasharray="none" fill="none"/>
<path d="M149.68,367.35 L149.68,387.40 M148.18,367.35 L151.18,367.35 M148.18,387.40 L151.18,387.40" stroke="#a81424" stroke-width="1" stroke-dasharray="none" fill="none"/>
<path d="M157.50,396.04 L157.50,417.24 M156.00,396.04 L159.00,396.04 M156.00,417.24 L159.00,417.24" stroke="#a81424" stroke-width="1" stroke-dasharray="none" fill="none"/>
<path d="M165.33,375.61 L165.33,394.17 M163.83,375.61 L166.83,375.61 M163.83,394.17 L166.83,394.17" stroke="#a81424" stroke-width="1" stroke-dasharray="none" fill="none"/>
<path d="M173.15,383.59 L173.15,402.86 M171.65,383.59 L174.65,383.59 M171.65,402.86 L174.65,402.86" stroke="#a81424" stroke-width="1" stroke-dasharray="none" fill="none"/>
<path d="M180.97,368.22 L180.97,384.99 M179.47,368.22 L182.47,368.22 M179.47,384.99 L182.47,384.99" stroke="#a81424" stroke-width="1" stroke-dasharray="none" fill="none"/>
<path d="M188.79,396.99 L188.79,415.37 M187.29,396.99 L190.29,396.99 M187.29,415.37 L190.29,415.37" stroke="#a81424" stroke-width="1" stroke-dasharray="none" fill="none"/>
<path d="M196.62,407.36 L196.62,425.59 M195.12,407.36 L198.12,407.36 M195.12,425.59 L198.12,425.59" stroke="#a81424" stroke-width="1" stroke-dasharray="none" fill="none"/>
<path d="M204.44,399.98 L204.44,416.83 M202.94,399.98 L205.94,399.98 M202.94,416.83 L205.94,416.83" stroke="#a81424" stroke-width="1" stroke-dasharray="none" fill="none"/>
<path d="M212.26,409.68 L212.26,427.19 M210.76,409.68 L213.76,409.68 M210.76,427.19 L213.76,427.19" stroke="#a81424" stroke-width="1" stroke-dasharray="none" fill="none"/>
<path d="M220.09,396.16 L220.09,412.61 M218.59,396.16 L221.59,396.16 M218.59,412.61 L221.59,412.61" stroke="#a81424" stroke-width="1" stroke-dasharray="none" fill="none"/>
<path d="M227.91,381.85 L227.91,395.27 M226.41,381.85 L229.41,381.85 M226.41,395.27 L229.41,395.27" stroke="#a81424" stroke-width="1" stroke-dasharray="none" fill="none"/>
<path d="M235.73,393.42 L235.73,407.12 M234.23,393.42 L237.23,393.42 M234.23,407.12 L237.23,407.12" stroke="#a81424" stroke-width="1" stroke-dasharray="none" fill="none"/>
<path d="M243.55,416.03 L243.55,429.71 M242.05,416.03 L245.05,416.03 M242.05,429.71 L245.05,429.71" stroke="#a81424" stroke-width="1" stroke-dasharray="none" fill="none"/>
<path d="M251.38,394.97 L251.38,406.41 M249.88,394.97 L252.88,394.97 M249.88,406.41 L252.88,406.41" stroke="#a81424" stroke-width="1" stroke-dasharray="none" fill="none"/>
<path d="M259.20,402.38 L259.20,412.94 M257.70,402.38 L260.70,402.38 M257.70,412.94 L260.70,412.94" stroke="#a81424" stroke-width="1" stroke-dasharray="none" fill="none"/>
<path d="M267.02,393.36 L267.02,402.90 M265.52,393.36 L268.52,393.36 M265.52,402.90 L268.52,402.90" stroke="#a81424" stroke-width="1" stroke-dasharray="none" fill="none"/>
<path d="M274.84,388.66 L274.84,397.36 M273.34,388.66 L276.34,388.66 M273.34,397.36 L276.34,397.36" stroke="#a81424" stroke-width="1" stroke-dasharray="none" fill="none"/>
<path d="M282.67,395.39 L282.67,403.39 M281.17,395.39 L284.17,395.39 M281.17,403.39 L284.17,403.39" stroke="#a81424" stroke-width="1" stroke-dasharray="none" fill="none"/>
<path d="M290.49,390.52 L290.49,397.62 M288.99,390.52 L291.99,390.52 M288.99,397.62 L291.99,397.62" stroke="#a81424" stroke-width="1" stroke-dasharray="none" fill="none"/>
<path d="M298.31,389.75 L298.31,395.95 M296.81,389.75 L299.81,389.75 M296.81,395.95 L299.81,395.95" stroke="#a81424" stroke-width="1" stroke-dasharray="none" fill="none"/>
<path d="M306.13,398.16 L306.13,403.93 M304.63,398.16 L307.63,398.16 M304.63,403.93 L307.63,403.93" stroke="#a81424" stroke-width="1" stroke-dasharray="none" fill="none"/>
<path d="M313.96,391.30 L313.96,396.37 M312.46,391.30 L315.46,391.30 M312.46,396.37 L315.46,396.37" stroke="#a81424" stroke-width="1" stroke-dasharray="none" fill="none"/>
<path d="M321.78,395.09 L321.78,399.56 M320.28,395.09 L323.28,395.09 M320.28,399.56 L323.28,399.56" stroke="#a81424" stroke-width="1" stroke-dasharray="none" fill="none"/>
<path d="M329.60,401.93 L329.60,405.71 M328.10,401.93 L331.10,401.93 M328.10,405.71 L331.10,405.71" stroke="#a81424" stroke-width="1" stroke-dasharray="none" fill="none"/>
<path d="M337.42,398.18 L337.42,401.25 M335.92,398.18 L338.92,398.18 M335.92,401.25 L338.92,401.25" stroke="#a81424" stroke-width="1" stroke-dasharray="none" fill="none"/>
<path d="M345.25,400.80 L345.25,403.22 M343.75,400.80 L346.75,400.80 M343.75,403.22 L346.75,403.22" stroke="#a81424" stroke-width="1" stroke-dasharray="none" fill="none"/>
<path d="M353.07,402.51 L353.07,404.30 M351.57,402.51 L354.57,402.51 M351.57,404.30 L354.57,404.30" stroke="#a81424" stroke-width="1" stroke-dasharray="none" fill="none"/>
<path d="M360.89,402.53 L360.89,403.67 M359.39,402.53 L362.39,402.53 M359.39,403.67 L362.39,403.67" stroke="#a81424" stroke-width="1" stroke-dasharray="none" fill="none"/>
<path d="M55.81,385.60 L58.91,391.80 L52.71,391.80 Z" fill="none" stroke="#a81424" stroke-width="1.05" stroke-linejoin="miter"/>
<path d="M63.63,407.60 L66.73,413.80 L60.53,413.80 Z" fill="none" stroke="#a81424" stroke-width="1.05" stroke-linejoin="miter"/>
<path d="M71.46,410.80 L74.56,417.00 L68.36,417.00 Z" fill="none" stroke="#a81424" stroke-width="1.05" stroke-linejoin="miter"/>
<path d="M79.28,370.30 L82.38,376.50 L76.18,376.50 Z" fill="none" stroke="#a81424" stroke-width="1.05" stroke-linejoin="miter"/>
<path d="M87.10,414.30 L90.20,420.50 L84.00,420.50 Z" fill="none" stroke="#a81424" stroke-width="1.05" stroke-linejoin="miter"/>
<path d="M94.92,386.20 L98.02,392.40 L91.82,392.40 Z" fill="none" stroke="#a81424" stroke-width="1.05" stroke-linejoin="miter"/>
<path d="M102.75,369.90 L105.85,376.10 L99.65,376.10 Z" fill="none" stroke="#a81424" stroke-width="1.05" stroke-linejoin="miter"/>
<path d="M110.57,386.20 L113.67,392.40 L107.47,392.40 Z" fill="none" stroke="#a81424" stroke-width="1.05" stroke-linejoin="miter"/>
<path d="M118.39,408.60 L121.49,414.80 L115.29,414.80 Z" fill="none" stroke="#a81424" stroke-width="1.05" stroke-linejoin="miter"/>
<path d="M126.21,422.50 L129.31,428.70 L123.11,428.70 Z" fill="none" stroke="#a81424" stroke-width="1.05" stroke-linejoin="miter"/>
<path d="M134.04,381.80 L137.14,388.00 L130.94,388.00 Z" fill="none" stroke="#a81424" stroke-width="1.05" stroke-linejoin="miter"/>
<path d="M141.86,381.80 L144.96,388.00 L138.76,388.00 Z" fill="none" stroke="#a81424" stroke-width="1.05" stroke-linejoin="miter"/>
<path d="M149.68,373.50 L152.78,379.70 L146.58,379.70 Z" fill="none" stroke="#a81424" stroke-width="1.05" stroke-linejoin="miter"/>
<path d="M157.50,402.70 L160.60,408.90 L154.40,408.90 Z" fill="none" stroke="#a81424" stroke-width="1.05" stroke-linejoin="miter"/>
<path d="M165.33,381.10 L168.43,387.30 L162.23,387.30 Z" fill="none" stroke="#a81424" stroke-width="1.05" stroke-linejoin="miter"/>
<path d="M173.15,389.40 L176.25,395.60 L170.05,395.60 Z" fill="none" stroke="#a81424" stroke-width="1.05" stroke-linejoin="miter"/>
<path d="M180.97,372.90 L184.07,379.10 L177.87,379.10 Z" fill="none" stroke="#a81424" stroke-width="1.05" stroke-linejoin="miter"/>
<path d="M188.79,402.40 L191.89,408.60 L185.69,408.60 Z" fill="none" stroke="#a81424" stroke-width="1.05" stroke-linejoin="miter"/>
<path d="M196.62,412.70 L199.72,418.90 L193.52,418.90 Z" fill="none" stroke="#a81424" stroke-width="1.05" stroke-linejoin="miter"/>
<path d="M204.44,404.70 L207.54,410.90 L201.34,410.90 Z" fill="none" stroke="#a81424" stroke-width="1.05" stroke-linejoin="miter"/>
<path d="M212.26,414.70 L215.36,420.90 L209.16,420.90 Z" fill="none" stroke="#a81424" stroke-width="1.05" stroke-linejoin="miter"/>
<path d="M220.09,400.70 L223.19,406.90 L216.99,406.90 Z" fill="none" stroke="#a81424" stroke-width="1.05" stroke-linejoin="miter"/>
<path d="M227.91,385.00 L231.01,391.20 L224.81,391.20 Z" fill="none" stroke="#a81424" stroke-width="1.05" stroke-linejoin="miter"/>
<path d="M235.73,396.70 L238.83,402.90 L232.63,402.90 Z" fill="none" stroke="#a81424" stroke-width="1.05" stroke-linejoin="miter"/>
<path d="M243.55,419.30 L246.65,425.50 L240.45,425.50 Z" fill="none" stroke="#a81424" stroke-width="1.05" stroke-linejoin="miter"/>
<path d="M251.38,397.20 L254.48,403.40 L248.28,403.40 Z" fill="none" stroke="#a81424" stroke-width="1.05" stroke-linejoin="miter"/>
<path d="M259.20,404.20 L262.30,410.40 L256.10,410.40 Z" fill="none" stroke="#a81424" stroke-width="1.05" stroke-linejoin="miter"/>
<path d="M267.02,394.70 L270.12,400.90 L263.92,400.90 Z" fill="none" stroke="#a81424" stroke-width="1.05" stroke-linejoin="miter"/>
<path d="M274.84,389.60 L277.94,395.80 L271.74,395.80 Z" fill="none" stroke="#a81424" stroke-width="1.05" stroke-linejoin="miter"/>
<path d="M282.67,396.00 L285.77,402.20 L279.57,402.20 Z" fill="none" stroke="#a81424" stroke-width="1.05" stroke-linejoin="miter"/>
<path d="M290.49,390.70 L293.59,396.90 L287.39,396.90 Z" fill="none" stroke="#a81424" stroke-width="1.05" stroke-linejoin="miter"/>
<path d="M298.31,389.50 L301.41,395.70 L295.21,395.70 Z" fill="none" stroke="#a81424" stroke-width="1.05" stroke-linejoin="miter"/>
<path d="M306.13,397.70 L309.23,403.90 L303.03,403.90 Z" fill="none" stroke="#a81424" stroke-width="1.05" stroke-linejoin="miter"/>
<path d="M313.96,390.50 L317.06,396.70 L310.86,396.70 Z" fill="none" stroke="#a81424" stroke-width="1.05" stroke-linejoin="miter"/>
<path d="M321.78,394.00 L324.88,400.20 L318.68,400.20 Z" fill="none" stroke="#a81424" stroke-width="1.05" stroke-linejoin="miter"/>
<path d="M329.60,400.50 L332.70,406.70 L326.50,406.70 Z" fill="none" stroke="#a81424" stroke-width="1.05" stroke-linejoin="miter"/>
<path d="M337.42,396.40 L340.52,402.60 L334.32,402.60 Z" fill="none" stroke="#a81424" stroke-width="1.05" stroke-linejoin="miter"/>
<path d="M345.25,398.70 L348.35,404.90 L342.15,404.90 Z" fill="none" stroke="#a81424" stroke-width="1.05" stroke-linejoin="miter"/>
<path d="M353.07,400.10 L356.17,406.30 L349.97,406.30 Z" fill="none" stroke="#a81424" stroke-width="1.05" stroke-linejoin="miter"/>
<path d="M360.89,399.80 L363.99,406.00 L357.79,406.00 Z" fill="none" stroke="#a81424" stroke-width="1.05" stroke-linejoin="miter"/>
</g>
<g clip-path="url(#cr)">
<path d="M55.81,399.50 L63.63,382.90 L71.46,424.00 L79.28,423.00 L87.10,409.00 L94.92,399.80 L102.75,406.70 L110.57,406.00 L118.39,456.60 L126.21,426.50 L134.04,396.10 L141.86,394.70 L149.68,413.30 L157.50,421.00 L165.33,422.90 L173.15,412.00 L180.97,410.40 L188.79,424.80 L196.62,431.50 L204.44,419.70 L212.26,420.80 L220.09,401.00 L227.91,414.10 L235.73,422.20 L243.55,444.50 L251.38,429.90 L259.20,420.40 L267.02,426.10 L274.84,428.00 L282.67,424.20 L290.49,427.20 L298.31,427.20 L306.13,422.70 L313.96,421.40 L321.78,419.50 L329.60,417.70 L337.42,418.30 L345.25,414.30 L353.07,404.10 L360.89,381.50" fill="none" stroke="#ff7326" stroke-width="1.0" stroke-dasharray="4,2,1,2" stroke-linejoin="round"/>
<path d="M55.81,387.53 L55.81,413.37 M54.31,387.53 L57.31,387.53 M54.31,413.37 L57.31,413.37" stroke="#ff7326" stroke-width="1" stroke-dasharray="2,1.5" fill="none"/>
<path d="M63.63,372.62 L63.63,394.54 M62.13,372.62 L65.13,372.62 M62.13,394.54 L65.13,394.54" stroke="#ff7326" stroke-width="1" stroke-dasharray="2,1.5" fill="none"/>
<path d="M71.46,412.00 L71.46,437.91 M69.96,412.00 L72.96,412.00 M69.96,437.91 L72.96,437.91" stroke="#ff7326" stroke-width="1" stroke-dasharray="2,1.5" fill="none"/>
<path d="M79.28,410.04 L79.28,438.21 M77.78,410.04 L80.78,410.04 M77.78,438.21 L80.78,438.21" stroke="#ff7326" stroke-width="1" stroke-dasharray="2,1.5" fill="none"/>
<path d="M87.10,398.14 L87.10,421.40 M85.60,398.14 L88.60,398.14 M85.60,421.40 L88.60,421.40" stroke="#ff7326" stroke-width="1" stroke-dasharray="2,1.5" fill="none"/>
<path d="M94.92,388.93 L94.92,412.21 M93.42,388.93 L96.42,388.93 M93.42,412.21 L96.42,412.21" stroke="#ff7326" stroke-width="1" stroke-dasharray="2,1.5" fill="none"/>
<path d="M102.75,394.59 L102.75,420.75 M101.25,394.59 L104.25,394.59 M101.25,420.75 L104.25,420.75" stroke="#ff7326" stroke-width="1" stroke-dasharray="2,1.5" fill="none"/>
<path d="M110.57,394.98 L110.57,418.61 M109.07,394.98 L112.07,394.98 M109.07,418.61 L112.07,418.61" stroke="#ff7326" stroke-width="1" stroke-dasharray="2,1.5" fill="none"/>
<path d="M118.39,442.78 L118.39,473.01 M116.89,442.78 L119.89,442.78 M116.89,473.01 L119.89,473.01" stroke="#ff7326" stroke-width="1" stroke-dasharray="2,1.5" fill="none"/>
<path d="M126.21,415.66 L126.21,438.88 M124.71,415.66 L127.71,415.66 M124.71,438.88 L127.71,438.88" stroke="#ff7326" stroke-width="1" stroke-dasharray="2,1.5" fill="none"/>
<path d="M134.04,386.51 L134.04,406.86 M132.54,386.51 L135.54,386.51 M132.54,406.86 L135.54,406.86" stroke="#ff7326" stroke-width="1" stroke-dasharray="2,1.5" fill="none"/>
<path d="M141.86,385.60 L141.86,404.85 M140.36,385.60 L143.36,385.60 M140.36,404.85 L143.36,404.85" stroke="#ff7326" stroke-width="1" stroke-dasharray="2,1.5" fill="none"/>
<path d="M149.68,402.81 L149.68,425.21 M148.18,402.81 L151.18,402.81 M148.18,425.21 L151.18,425.21" stroke="#ff7326" stroke-width="1" stroke-dasharray="2,1.5" fill="none"/>
<path d="M157.50,411.16 L157.50,432.09 M156.00,411.16 L159.00,411.16 M156.00,432.09 L159.00,432.09" stroke="#ff7326" stroke-width="1" stroke-dasharray="2,1.5" fill="none"/>
<path d="M165.33,413.04 L165.33,434.01 M163.83,413.04 L166.83,413.04 M163.83,434.01 L166.83,434.01" stroke="#ff7326" stroke-width="1" stroke-dasharray="2,1.5" fill="none"/>
<path d="M173.15,402.79 L173.15,422.29 M171.65,402.79 L174.65,402.79 M171.65,422.29 L174.65,422.29" stroke="#ff7326" stroke-width="1" stroke-dasharray="2,1.5" fill="none"/>
<path d="M180.97,401.65 L180.97,420.13 M179.47,401.65 L182.47,401.65 M179.47,420.13 L182.47,420.13" stroke="#ff7326" stroke-width="1" stroke-dasharray="2,1.5" fill="none"/>
<path d="M188.79,416.00 L188.79,434.58 M187.29,416.00 L190.29,416.00 M187.29,434.58 L190.29,434.58" stroke="#ff7326" stroke-width="1" stroke-dasharray="2,1.5" fill="none"/>
<path d="M196.62,422.94 L196.62,440.99 M195.12,422.94 L198.12,422.94 M195.12,440.99 L198.12,440.99" stroke="#ff7326" stroke-width="1" stroke-dasharray="2,1.5" fill="none"/>
<path d="M204.44,411.92 L204.44,428.24 M202.94,411.92 L205.94,411.92 M202.94,428.24 L205.94,428.24" stroke="#ff7326" stroke-width="1" stroke-dasharray="2,1.5" fill="none"/>
<path d="M212.26,413.12 L212.26,429.22 M210.76,413.12 L213.76,413.12 M210.76,429.22 L213.76,429.22" stroke="#ff7326" stroke-width="1" stroke-dasharray="2,1.5" fill="none"/>
<path d="M220.09,393.98 L220.09,408.63 M218.59,393.98 L221.59,393.98 M218.59,408.63 L221.59,408.63" stroke="#ff7326" stroke-width="1" stroke-dasharray="2,1.5" fill="none"/>
<path d="M227.91,407.34 L227.91,421.43 M226.41,407.34 L229.41,407.34 M226.41,421.43 L229.41,421.43" stroke="#ff7326" stroke-width="1" stroke-dasharray="2,1.5" fill="none"/>
<path d="M235.73,415.44 L235.73,429.53 M234.23,415.44 L237.23,415.44 M234.23,429.53 L237.23,429.53" stroke="#ff7326" stroke-width="1" stroke-dasharray="2,1.5" fill="none"/>
<path d="M243.55,437.76 L243.55,451.81 M242.05,437.76 L245.05,437.76 M242.05,451.81 L245.05,451.81" stroke="#ff7326" stroke-width="1" stroke-dasharray="2,1.5" fill="none"/>
<path d="M251.38,423.98 L251.38,436.25 M249.88,423.98 L252.88,423.98 M249.88,436.25 L252.88,436.25" stroke="#ff7326" stroke-width="1" stroke-dasharray="2,1.5" fill="none"/>
<path d="M259.20,415.40 L259.20,425.70 M257.70,415.40 L260.70,415.40 M257.70,425.70 L260.70,425.70" stroke="#ff7326" stroke-width="1" stroke-dasharray="2,1.5" fill="none"/>
<path d="M267.02,421.17 L267.02,431.32 M265.52,421.17 L268.52,421.17 M265.52,431.32 L268.52,431.32" stroke="#ff7326" stroke-width="1" stroke-dasharray="2,1.5" fill="none"/>
<path d="M274.84,423.31 L274.84,432.95 M273.34,423.31 L276.34,423.31 M273.34,432.95 L276.34,432.95" stroke="#ff7326" stroke-width="1" stroke-dasharray="2,1.5" fill="none"/>
<path d="M282.67,420.12 L282.67,428.48 M281.17,420.12 L284.17,420.12 M281.17,428.48 L284.17,428.48" stroke="#ff7326" stroke-width="1" stroke-dasharray="2,1.5" fill="none"/>
<path d="M290.49,423.40 L290.49,431.17 M288.99,423.40 L291.99,423.40 M288.99,431.17 L291.99,431.17" stroke="#ff7326" stroke-width="1" stroke-dasharray="2,1.5" fill="none"/>
<path d="M298.31,423.85 L298.31,430.68 M296.81,423.85 L299.81,423.85 M296.81,430.68 L299.81,430.68" stroke="#ff7326" stroke-width="1" stroke-dasharray="2,1.5" fill="none"/>
<path d="M306.13,419.79 L306.13,425.71 M304.63,419.79 L307.63,419.79 M304.63,425.71 L307.63,425.71" stroke="#ff7326" stroke-width="1" stroke-dasharray="2,1.5" fill="none"/>
<path d="M313.96,418.76 L313.96,424.13 M312.46,418.76 L315.46,418.76 M312.46,424.13 L315.46,424.13" stroke="#ff7326" stroke-width="1" stroke-dasharray="2,1.5" fill="none"/>
<path d="M321.78,417.23 L321.78,421.83 M320.28,417.23 L323.28,417.23 M320.28,421.83 L323.28,421.83" stroke="#ff7326" stroke-width="1" stroke-dasharray="2,1.5" fill="none"/>
<path d="M329.60,415.86 L329.60,419.58 M328.10,415.86 L331.10,415.86 M328.10,419.58 L331.10,419.58" stroke="#ff7326" stroke-width="1" stroke-dasharray="2,1.5" fill="none"/>
<path d="M337.42,416.77 L337.42,419.86 M335.92,416.77 L338.92,416.77 M335.92,419.86 L338.92,419.86" stroke="#ff7326" stroke-width="1" stroke-dasharray="2,1.5" fill="none"/>
<path d="M345.25,413.13 L345.25,415.48 M343.75,413.13 L346.75,413.13 M343.75,415.48 L346.75,415.48" stroke="#ff7326" stroke-width="1" stroke-dasharray="2,1.5" fill="none"/>
<path d="M353.07,403.29 L353.07,404.92 M351.57,403.29 L354.57,403.29 M351.57,404.92 L354.57,404.92" stroke="#ff7326" stroke-width="1" stroke-dasharray="2,1.5" fill="none"/>
<path d="M360.89,381.04 L360.89,381.96 M359.39,381.04 L362.39,381.04 M359.39,381.96 L362.39,381.96" stroke="#ff7326" stroke-width="1" stroke-dasharray="2,1.5" fill="none"/>
<rect x="53.41" y="397.10" width="4.8" height="4.8" fill="#ff7326" stroke="none"/>
<rect x="61.23" y="380.50" width="4.8" height="4.8" fill="#ff7326" stroke="none"/>
<rect x="69.06" y="421.60" width="4.8" height="4.8" fill="#ff7326" stroke="none"/>
<rect x="76.88" y="420.60" width="4.8" height="4.8" fill="#ff7326" stroke="none"/>
<rect x="84.70" y="406.60" width="4.8" height="4.8" fill="#ff7326" stroke="none"/>
<rect x="92.52" y="397.40" width="4.8" height="4.8" fill="#ff7326" stroke="none"/>
<rect x="100.35" y="404.30" width="4.8" height="4.8" fill="#ff7326" stroke="none"/>
<rect x="108.17" y="403.60" width="4.8" height="4.8" fill="#ff7326" stroke="none"/>
<rect x="115.99" y="454.20" width="4.8" height="4.8" fill="#ff7326" stroke="none"/>
<rect x="123.81" y="424.10" width="4.8" height="4.8" fill="#ff7326" stroke="none"/>
<rect x="131.64" y="393.70" width="4.8" height="4.8" fill="#ff7326" stroke="none"/>
<rect x="139.46" y="392.30" width="4.8" height="4.8" fill="#ff7326" stroke="none"/>
<rect x="147.28" y="410.90" width="4.8" height="4.8" fill="#ff7326" stroke="none"/>
<rect x="155.10" y="418.60" width="4.8" height="4.8" fill="#ff7326" stroke="none"/>
<rect x="162.93" y="420.50" width="4.8" height="4.8" fill="#ff7326" stroke="none"/>
<rect x="170.75" y="409.60" width="4.8" height="4.8" fill="#ff7326" stroke="none"/>
<rect x="178.57" y="408.00" width="4.8" height="4.8" fill="#ff7326" stroke="none"/>
<rect x="186.39" y="422.40" width="4.8" height="4.8" fill="#ff7326" stroke="none"/>
<rect x="194.22" y="429.10" width="4.8" height="4.8" fill="#ff7326" stroke="none"/>
<rect x="202.04" y="417.30" width="4.8" height="4.8" fill="#ff7326" stroke="none"/>
<rect x="209.86" y="418.40" width="4.8" height="4.8" fill="#ff7326" stroke="none"/>
<rect x="217.69" y="398.60" width="4.8" height="4.8" fill="#ff7326" stroke="none"/>
<rect x="225.51" y="411.70" width="4.8" height="4.8" fill="#ff7326" stroke="none"/>
<rect x="233.33" y="419.80" width="4.8" height="4.8" fill="#ff7326" stroke="none"/>
<rect x="241.15" y="442.10" width="4.8" height="4.8" fill="#ff7326" stroke="none"/>
<rect x="248.98" y="427.50" width="4.8" height="4.8" fill="#ff7326" stroke="none"/>
<rect x="256.80" y="418.00" width="4.8" height="4.8" fill="#ff7326" stroke="none"/>
<rect x="264.62" y="423.70" width="4.8" height="4.8" fill="#ff7326" stroke="none"/>
<rect x="272.44" y="425.60" width="4.8" height="4.8" fill="#ff7326" stroke="none"/>
<rect x="280.27" y="421.80" width="4.8" height="4.8" fill="#ff7326" stroke="none"/>
<rect x="288.09" y="424.80" width="4.8" height="4.8" fill="#ff7326" stroke="none"/>
<rect x="295.91" y="424.80" width="4.8" height="4.8" fill="#ff7326" stroke="none"/>
<rect x="303.73" y="420.30" width="4.8" height="4.8" fill="#ff7326" stroke="none"/>
<rect x="311.56" y="419.00" width="4.8" height="4.8" fill="#ff7326" stroke="none"/>
<rect x="319.38" y="417.10" width="4.8" height="4.8" fill="#ff7326" stroke="none"/>
<rect x="327.20" y="415.30" width="4.8" height="4.8" fill="#ff7326" stroke="none"/>
<rect x="335.02" y="415.90" width="4.8" height="4.8" fill="#ff7326" stroke="none"/>
<rect x="342.85" y="411.90" width="4.8" height="4.8" fill="#ff7326" stroke="none"/>
<rect x="350.67" y="401.70" width="4.8" height="4.8" fill="#ff7326" stroke="none"/>
<rect x="358.49" y="379.10" width="4.8" height="4.8" fill="#ff7326" stroke="none"/>
</g>
<g clip-path="url(#cr)">
<path d="M55.81,416.90 L63.63,413.20 L71.46,395.90 L79.28,425.50 L87.10,379.40 L94.92,376.80 L102.75,384.40 L110.57,412.60 L118.39,377.80 L126.21,408.90 L134.04,405.30 L141.86,409.70 L149.68,395.90 L157.50,422.10 L165.33,387.60 L173.15,414.10 L180.97,376.80 L188.79,397.00 L196.62,416.60 L204.44,399.60 L212.26,403.00 L220.09,406.50 L227.91,401.60 L235.73,401.90 L243.55,418.30 L251.38,406.90 L259.20,408.20 L267.02,400.50 L274.84,399.30 L282.67,404.40 L290.49,395.40 L298.31,406.20 L306.13,404.90 L313.96,399.80 L321.78,390.30 L329.60,394.80 L337.42,393.60 L345.25,394.00 L353.07,393.60 L360.89,389.20" fill="none" stroke="#0000ff" stroke-width="1.2" stroke-dasharray="none" stroke-linejoin="round"/>
<path d="M55.81,399.26 L55.81,439.00 M54.31,399.26 L57.31,399.26 M54.31,439.00 L57.31,439.00" stroke="#0000ff" stroke-width="1" stroke-dasharray="none" fill="none"/>
<path d="M63.63,396.93 L63.63,433.19 M62.13,396.93 L65.13,396.93 M62.13,433.19 L65.13,433.19" stroke="#0000ff" stroke-width="1" stroke-dasharray="none" fill="none"/>
<path d="M71.46,381.95 L71.46,412.49 M69.96,381.95 L72.96,381.95 M69.96,412.49 L72.96,412.49" stroke="#0000ff" stroke-width="1" stroke-dasharray="none" fill="none"/>
<path d="M79.28,407.86 L79.28,447.60 M77.78,407.86 L80.78,407.86 M77.78,447.60 L80.78,447.60" stroke="#0000ff" stroke-width="1" stroke-dasharray="none" fill="none"/>
<path d="M87.10,366.87 L87.10,394.03 M85.60,366.87 L88.60,366.87 M85.60,394.03 L88.60,394.03" stroke="#0000ff" stroke-width="1" stroke-dasharray="none" fill="none"/>
<path d="M94.92,363.81 L94.92,392.05 M93.42,363.81 L96.42,363.81 M93.42,392.05 L96.42,392.05" stroke="#0000ff" stroke-width="1" stroke-dasharray="none" fill="none"/>
<path d="M102.75,369.90 L102.75,401.79 M101.25,369.90 L104.25,369.90 M101.25,401.79 L104.25,401.79" stroke="#0000ff" stroke-width="1" stroke-dasharray="none" fill="none"/>
<path d="M110.57,397.21 L110.57,431.28 M109.07,397.21 L112.07,397.21 M109.07,431.28 L112.07,431.28" stroke="#0000ff" stroke-width="1" stroke-dasharray="none" fill="none"/>
<path d="M118.39,365.53 L118.39,392.08 M116.89,365.53 L119.89,365.53 M116.89,392.08 L119.89,392.08" stroke="#0000ff" stroke-width="1" stroke-dasharray="none" fill="none"/>
<path d="M126.21,395.57 L126.21,424.63 M124.71,395.57 L127.71,395.57 M124.71,424.63 L127.71,424.63" stroke="#0000ff" stroke-width="1" stroke-dasharray="none" fill="none"/>
<path d="M134.04,391.69 L134.04,421.42 M132.54,391.69 L135.54,391.69 M132.54,421.42 L135.54,421.42" stroke="#0000ff" stroke-width="1" stroke-dasharray="none" fill="none"/>
<path d="M141.86,396.37 L141.86,425.43 M140.36,396.37 L143.36,396.37 M140.36,425.43 L143.36,425.43" stroke="#0000ff" stroke-width="1" stroke-dasharray="none" fill="none"/>
<path d="M149.68,382.99 L149.68,411.05 M148.18,382.99 L151.18,382.99 M148.18,411.05 L151.18,411.05" stroke="#0000ff" stroke-width="1" stroke-dasharray="none" fill="none"/>
<path d="M157.50,408.72 L157.50,437.90 M156.00,408.72 L159.00,408.72 M156.00,437.90 L159.00,437.90" stroke="#0000ff" stroke-width="1" stroke-dasharray="none" fill="none"/>
<path d="M165.33,376.56 L165.33,400.23 M163.83,376.56 L166.83,376.56 M163.83,400.23 L166.83,400.23" stroke="#0000ff" stroke-width="1" stroke-dasharray="none" fill="none"/>
<path d="M173.15,401.50 L173.15,428.82 M171.65,401.50 L174.65,401.50 M171.65,428.82 L174.65,428.82" stroke="#0000ff" stroke-width="1" stroke-dasharray="none" fill="none"/>
<path d="M180.97,366.90 L180.97,387.97 M179.47,366.90 L182.47,366.90 M179.47,387.97 L182.47,387.97" stroke="#0000ff" stroke-width="1" stroke-dasharray="none" fill="none"/>
<path d="M188.79,386.73 L188.79,408.63 M187.29,386.73 L190.29,386.73 M187.29,408.63 L190.29,408.63" stroke="#0000ff" stroke-width="1" stroke-dasharray="none" fill="none"/>
<path d="M196.62,405.89 L196.62,428.80 M195.12,405.89 L198.12,405.89 M195.12,428.80 L198.12,428.80" stroke="#0000ff" stroke-width="1" stroke-dasharray="none" fill="none"/>
<path d="M204.44,390.12 L204.44,410.23 M202.94,390.12 L205.94,390.12 M202.94,410.23 L205.94,410.23" stroke="#0000ff" stroke-width="1" stroke-dasharray="none" fill="none"/>
<path d="M212.26,393.52 L212.26,413.63 M210.76,393.52 L213.76,393.52 M210.76,413.63 L213.76,413.63" stroke="#0000ff" stroke-width="1" stroke-dasharray="none" fill="none"/>
<path d="M220.09,396.67 L220.09,417.57 M218.59,396.67 L221.59,396.67 M218.59,417.57 L221.59,417.57" stroke="#0000ff" stroke-width="1" stroke-dasharray="none" fill="none"/>
<path d="M227.91,393.01 L227.91,411.13 M226.41,393.01 L229.41,393.01 M226.41,411.13 L229.41,411.13" stroke="#0000ff" stroke-width="1" stroke-dasharray="none" fill="none"/>
<path d="M235.73,393.66 L235.73,410.99 M234.23,393.66 L237.23,393.66 M234.23,410.99 L237.23,410.99" stroke="#0000ff" stroke-width="1" stroke-dasharray="none" fill="none"/>
<path d="M243.55,410.34 L243.55,427.05 M242.05,410.34 L245.05,410.34 M242.05,427.05 L245.05,427.05" stroke="#0000ff" stroke-width="1" stroke-dasharray="none" fill="none"/>
<path d="M251.38,399.79 L251.38,414.64 M249.88,399.79 L252.88,399.79 M249.88,414.64 L252.88,414.64" stroke="#0000ff" stroke-width="1" stroke-dasharray="none" fill="none"/>
<path d="M259.20,401.82 L259.20,415.08 M257.70,401.82 L260.70,401.82 M257.70,415.08 L260.70,415.08" stroke="#0000ff" stroke-width="1" stroke-dasharray="none" fill="none"/>
<path d="M267.02,394.66 L267.02,406.76 M265.52,394.66 L268.52,394.66 M265.52,406.76 L268.52,406.76" stroke="#0000ff" stroke-width="1" stroke-dasharray="none" fill="none"/>
<path d="M274.84,393.84 L274.84,405.13 M273.34,393.84 L276.34,393.84 M273.34,405.13 L276.34,405.13" stroke="#0000ff" stroke-width="1" stroke-dasharray="none" fill="none"/>
<path d="M282.67,399.40 L282.67,409.71 M281.17,399.40 L284.17,399.40 M281.17,409.71 L284.17,409.71" stroke="#0000ff" stroke-width="1" stroke-dasharray="none" fill="none"/>
<path d="M290.49,391.04 L290.49,399.99 M288.99,391.04 L291.99,391.04 M288.99,399.99 L291.99,399.99" stroke="#0000ff" stroke-width="1" stroke-dasharray="none" fill="none"/>
<path d="M298.31,402.12 L298.31,410.48 M296.81,402.12 L299.81,402.12 M296.81,410.48 L299.81,410.48" stroke="#0000ff" stroke-width="1" stroke-dasharray="none" fill="none"/>
<path d="M306.13,401.29 L306.13,408.67 M304.63,401.29 L307.63,401.29 M304.63,408.67 L307.63,408.67" stroke="#0000ff" stroke-width="1" stroke-dasharray="none" fill="none"/>
<path d="M313.96,396.59 L313.96,403.14 M312.46,396.59 L315.46,396.59 M312.46,403.14 L315.46,403.14" stroke="#0000ff" stroke-width="1" stroke-dasharray="none" fill="none"/>
<path d="M321.78,387.65 L321.78,393.03 M320.28,387.65 L323.28,387.65 M320.28,393.03 L323.28,393.03" stroke="#0000ff" stroke-width="1" stroke-dasharray="none" fill="none"/>
<path d="M329.60,392.58 L329.60,397.08 M328.10,392.58 L331.10,392.58 M328.10,397.08 L331.10,397.08" stroke="#0000ff" stroke-width="1" stroke-dasharray="none" fill="none"/>
<path d="M337.42,391.76 L337.42,395.48 M335.92,391.76 L338.92,391.76 M335.92,395.48 L338.92,395.48" stroke="#0000ff" stroke-width="1" stroke-dasharray="none" fill="none"/>
<path d="M345.25,392.57 L345.25,395.45 M343.75,392.57 L346.75,392.57 M343.75,395.45 L346.75,395.45" stroke="#0000ff" stroke-width="1" stroke-dasharray="none" fill="none"/>
<path d="M353.07,392.55 L353.07,394.66 M351.57,392.55 L354.57,392.55 M351.57,394.66 L354.57,394.66" stroke="#0000ff" stroke-width="1" stroke-dasharray="none" fill="none"/>
<path d="M360.89,388.54 L360.89,389.86 M359.39,388.54 L362.39,388.54 M359.39,389.86 L362.39,389.86" stroke="#0000ff" stroke-width="1" stroke-dasharray="none" fill="none"/>
<path d="M55.81,413.70 L58.71,419.20 L52.91,419.20 Z" fill="#0000ff" stroke="#0000ff" stroke-width="0.5"/>
<path d="M63.63,410.00 L66.53,415.50 L60.73,415.50 Z" fill="#0000ff" stroke="#0000ff" stroke-width="0.5"/>
<path d="M71.46,392.70 L74.36,398.20 L68.56,398.20 Z" fill="#0000ff" stroke="#0000ff" stroke-width="0.5"/>
<path d="M79.28,422.30 L82.18,427.80 L76.38,427.80 Z" fill="#0000ff" stroke="#0000ff" stroke-width="0.5"/>
<path d="M87.10,376.20 L90.00,381.70 L84.20,381.70 Z" fill="#0000ff" stroke="#0000ff" stroke-width="0.5"/>
<path d="M94.92,373.60 L97.82,379.10 L92.02,379.10 Z" fill="#0000ff" stroke="#0000ff" stroke-width="0.5"/>
<path d="M102.75,381.20 L105.65,386.70 L99.85,386.70 Z" fill="#0000ff" stroke="#0000ff" stroke-width="0.5"/>
<path d="M110.57,409.40 L113.47,414.90 L107.67,414.90 Z" fill="#0000ff" stroke="#0000ff" stroke-width="0.5"/>
<path d="M118.39,374.60 L121.29,380.10 L115.49,380.10 Z" fill="#0000ff" stroke="#0000ff" stroke-width="0.5"/>
<path d="M126.21,405.70 L129.11,411.20 L123.31,411.20 Z" fill="#0000ff" stroke="#0000ff" stroke-width="0.5"/>
<path d="M134.04,402.10 L136.94,407.60 L131.14,407.60 Z" fill="#0000ff" stroke="#0000ff" stroke-width="0.5"/>
<path d="M141.86,406.50 L144.76,412.00 L138.96,412.00 Z" fill="#0000ff" stroke="#0000ff" stroke-width="0.5"/>
<path d="M149.68,392.70 L152.58,398.20 L146.78,398.20 Z" fill="#0000ff" stroke="#0000ff" stroke-width="0.5"/>
<path d="M157.50,418.90 L160.40,424.40 L154.60,424.40 Z" fill="#0000ff" stroke="#0000ff" stroke-width="0.5"/>
<path d="M165.33,384.40 L168.23,389.90 L162.43,389.90 Z" fill="#0000ff" stroke="#0000ff" stroke-width="0.5"/>
<path d="M173.15,410.90 L176.05,416.40 L170.25,416.40 Z" fill="#0000ff" stroke="#0000ff" stroke-width="0.5"/>
<path d="M180.97,373.60 L183.87,379.10 L178.07,379.10 Z" fill="#0000ff" stroke="#0000ff" stroke-width="0.5"/>
<path d="M188.79,393.80 L191.69,399.30 L185.89,399.30 Z" fill="#0000ff" stroke="#0000ff" stroke-width="0.5"/>
<path d="M196.62,413.40 L199.52,418.90 L193.72,418.90 Z" fill="#0000ff" stroke="#0000ff" stroke-width="0.5"/>
<path d="M204.44,396.40 L207.34,401.90 L201.54,401.90 Z" fill="#0000ff" stroke="#0000ff" stroke-width="0.5"/>
<path d="M212.26,399.80 L215.16,405.30 L209.36,405.30 Z" fill="#0000ff" stroke="#0000ff" stroke-width="0.5"/>
<path d="M220.09,403.30 L222.99,408.80 L217.19,408.80 Z" fill="#0000ff" stroke="#0000ff" stroke-width="0.5"/>
<path d="M227.91,398.40 L230.81,403.90 L225.01,403.90 Z" fill="#0000ff" stroke="#0000ff" stroke-width="0.5"/>
<path d="M235.73,398.70 L238.63,404.20 L232.83,404.20 Z" fill="#0000ff" stroke="#0000ff" stroke-width="0.5"/>
<path d="M243.55,415.10 L246.45,420.60 L240.65,420.60 Z" fill="#0000ff" stroke="#0000ff" stroke-width="0.5"/>
<path d="M251.38,403.70 L254.28,409.20 L248.48,409.20 Z" fill="#0000ff" stroke="#0000ff" stroke-width="0.5"/>
<path d="M259.20,405.00 L262.10,410.50 L256.30,410.50 Z" fill="#0000ff" stroke="#0000ff" stroke-width="0.5"/>
<path d="M267.02,397.30 L269.92,402.80 L264.12,402.80 Z" fill="#0000ff" stroke="#0000ff" stroke-width="0.5"/>
<path d="M274.84,396.10 L277.74,401.60 L271.94,401.60 Z" fill="#0000ff" stroke="#0000ff" stroke-width="0.5"/>
<path d="M282.67,401.20 L285.57,406.70 L279.77,406.70 Z" fill="#0000ff" stroke="#0000ff" stroke-width="0.5"/>
<path d="M290.49,392.20 L293.39,397.70 L287.59,397.70 Z" fill="#0000ff" stroke="#0000ff" stroke-width="0.5"/>
<path d="M298.31,403.00 L301.21,408.50 L295.41,408.50 Z" fill="#0000ff" stroke="#0000ff" stroke-width="0.5"/>
<path d="M306.13,401.70 L309.03,407.20 L303.23,407.20 Z" fill="#0000ff" stroke="#0000ff" stroke-width="0.5"/>
<path d="M313.96,396.60 L316.86,402.10 L311.06,402.10 Z" fill="#0000ff" stroke="#0000ff" stroke-width="0.5"/>
<path d="M321.78,387.10 L324.68,392.60 L318.88,392.60 Z" fill="#0000ff" stroke="#0000ff" stroke-width="0.5"/>
<path d="M329.60,391.60 L332.50,397.10 L326.70,397.10 Z" fill="#0000ff" stroke="#0000ff" stroke-width="0.5"/>
<path d="M337.42,390.40 L340.32,395.90 L334.52,395.90 Z" fill="#0000ff" stroke="#0000ff" stroke-width="0.5"/>
<path d="M345.25,390.80 L348.15,396.30 L342.35,396.30 Z" fill="#0000ff" stroke="#0000ff" stroke-width="0.5"/>
<path d="M353.07,390.40 L355.97,395.90 L350.17,395.90 Z" fill="#0000ff" stroke="#0000ff" stroke-width="0.5"/>
<path d="M360.89,386.00 L363.79,391.50 L357.99,391.50 Z" fill="#0000ff" stroke="#0000ff" stroke-width="0.5"/>
</g>
<path d="M45.50,310.61L51.25,310.61M371.10,310.61L365.35,310.61M45.50,305.09L51.25,305.09M371.10,305.09L365.35,305.09M45.50,300.58L51.25,300.58M371.10,300.58L365.35,300.58M45.50,296.76L51.25,296.76M371.10,296.76L365.35,296.76M45.50,293.46L51.25,293.46M371.10,293.46L365.35,293.46M45.50,290.55L51.25,290.55M371.10,290.55L365.35,290.55M45.50,287.94L56.90,287.94M371.10,287.94L359.70,287.94M45.50,270.79L51.25,270.79M371.10,270.79L365.35,270.79M45.50,260.76L51.25,260.76M371.10,260.76L365.35,260.76M45.50,253.64L51.25,253.64M371.10,253.64L365.35,253.64M45.50,248.12L51.25,248.12M371.10,248.12L365.35,248.12M45.50,243.61L51.25,243.61M371.10,243.61L365.35,243.61M45.50,239.79L51.25,239.79M371.10,239.79L365.35,239.79M45.50,236.49L51.25,236.49M371.10,236.49L365.35,236.49M45.50,233.58L51.25,233.58M371.10,233.58L365.35,233.58M45.50,230.97L56.90,230.97M371.10,230.97L359.70,230.97M45.50,213.82L51.25,213.82M371.10,213.82L365.35,213.82M45.50,203.79L51.25,203.79M371.10,203.79L365.35,203.79M45.50,196.67L51.25,196.67M371.10,196.67L365.35,196.67M45.50,191.15L51.25,191.15M371.10,191.15L365.35,191.15M45.50,186.64L51.25,186.64M371.10,186.64L365.35,186.64M45.50,182.82L51.25,182.82M371.10,182.82L365.35,182.82M45.50,179.52L51.25,179.52M371.10,179.52L365.35,179.52M45.50,176.61L51.25,176.61M371.10,176.61L365.35,176.61M45.50,174.00L56.90,174.00M371.10,174.00L359.70,174.00M45.50,156.85L51.25,156.85M371.10,156.85L365.35,156.85M45.50,146.82L51.25,146.82M371.10,146.82L365.35,146.82M45.50,139.70L51.25,139.70M371.10,139.70L365.35,139.70M45.50,134.18L51.25,134.18M371.10,134.18L365.35,134.18M45.50,129.67L51.25,129.67M371.10,129.67L365.35,129.67M45.50,125.85L51.25,125.85M371.10,125.85L365.35,125.85M45.50,122.55L51.25,122.55M371.10,122.55L365.35,122.55M45.50,119.64L51.25,119.64M371.10,119.64L365.35,119.64M45.50,117.03L56.90,117.03M371.10,117.03L359.70,117.03M45.50,99.88L51.25,99.88M371.10,99.88L365.35,99.88M45.50,89.85L51.25,89.85M371.10,89.85L365.35,89.85M45.50,82.73L51.25,82.73M371.10,82.73L365.35,82.73M45.50,77.21L51.25,77.21M371.10,77.21L365.35,77.21M45.50,72.70L51.25,72.70M371.10,72.70L365.35,72.70M45.50,68.88L51.25,68.88M371.10,68.88L365.35,68.88M45.50,65.58L51.25,65.58M371.10,65.58L365.35,65.58M45.50,62.67L51.25,62.67M371.10,62.67L365.35,62.67M45.50,60.06L56.90,60.06M371.10,60.06L359.70,60.06M45.50,42.91L51.25,42.91M371.10,42.91L365.35,42.91M45.50,32.88L51.25,32.88M371.10,32.88L365.35,32.88M45.50,25.76L51.25,25.76M371.10,25.76L365.35,25.76M45.50,20.24L51.25,20.24M371.10,20.24L365.35,20.24M45.50,477.87L50.40,477.87M371.10,477.87L366.20,477.87M45.50,458.30L52.50,458.30M371.10,458.30L364.10,458.30M45.50,442.31L50.40,442.31M371.10,442.31L366.20,442.31M45.50,428.79L50.40,428.79M371.10,428.79L366.20,428.79M45.50,417.07L50.40,417.07M371.10,417.07L366.20,417.07M45.50,406.74L50.40,406.74M371.10,406.74L366.20,406.74M45.50,397.50L52.50,397.50M371.10,397.50L364.10,397.50M45.50,389.14L50.40,389.14M371.10,389.14L366.20,389.14M45.50,381.51L50.40,381.51M371.10,381.51L366.20,381.51M45.50,374.49L50.40,374.49M371.10,374.49L366.20,374.49M45.50,367.99L50.40,367.99M371.10,367.99L366.20,367.99M45.50,361.93L50.40,361.93M371.10,361.93L366.20,361.93M45.50,356.27L50.40,356.27M371.10,356.27L366.20,356.27M45.50,350.96L50.40,350.96M371.10,350.96L366.20,350.96M45.50,345.94L50.40,345.94M371.10,345.94L366.20,345.94M45.50,341.20L50.40,341.20M371.10,341.20L366.20,341.20M45.50,336.70L52.50,336.70M371.10,336.70L364.10,336.70M45.50,332.42L50.40,332.42M371.10,332.42L366.20,332.42M45.50,328.34L50.40,328.34M371.10,328.34L366.20,328.34M45.50,324.44L50.40,324.44M371.10,324.44L366.20,324.44M45.50,320.71L50.40,320.71M371.10,320.71L366.20,320.71M51.90,17.50L51.90,25.50M51.90,317.35L51.90,309.35M51.90,317.35L51.90,322.35M51.90,477.80L51.90,472.80M61.86,17.50L61.86,19.70M61.86,317.35L61.86,315.15M61.86,317.35L61.86,318.65M61.86,477.80L61.86,476.50M71.82,17.50L71.82,21.60M71.82,317.35L71.82,313.25M71.82,317.35L71.82,319.95M71.82,477.80L71.82,475.20M81.78,17.50L81.78,19.70M81.78,317.35L81.78,315.15M81.78,317.35L81.78,318.65M81.78,477.80L81.78,476.50M91.74,17.50L91.74,21.60M91.74,317.35L91.74,313.25M91.74,317.35L91.74,319.95M91.74,477.80L91.74,475.20M101.70,17.50L101.70,19.70M101.70,317.35L101.70,315.15M101.70,317.35L101.70,318.65M101.70,477.80L101.70,476.50M111.66,17.50L111.66,21.60M111.66,317.35L111.66,313.25M111.66,317.35L111.66,319.95M111.66,477.80L111.66,475.20M121.62,17.50L121.62,19.70M121.62,317.35L121.62,315.15M121.62,317.35L121.62,318.65M121.62,477.80L121.62,476.50M131.58,17.50L131.58,21.60M131.58,317.35L131.58,313.25M131.58,317.35L131.58,319.95M131.58,477.80L131.58,475.20M141.54,17.50L141.54,19.70M141.54,317.35L141.54,315.15M141.54,317.35L141.54,318.65M141.54,477.80L141.54,476.50M151.50,17.50L151.50,25.50M151.50,317.35L151.50,309.35M151.50,317.35L151.50,322.35M151.50,477.80L151.50,472.80M161.46,17.50L161.46,19.70M161.46,317.35L161.46,315.15M161.46,317.35L161.46,318.65M161.46,477.80L161.46,476.50M171.42,17.50L171.42,21.60M171.42,317.35L171.42,313.25M171.42,317.35L171.42,319.95M171.42,477.80L171.42,475.20M181.38,17.50L181.38,19.70M181.38,317.35L181.38,315.15M181.38,317.35L181.38,318.65M181.38,477.80L181.38,476.50M191.34,17.50L191.34,21.60M191.34,317.35L191.34,313.25M191.34,317.35L191.34,319.95M191.34,477.80L191.34,475.20M201.30,17.50L201.30,19.70M201.30,317.35L201.30,315.15M201.30,317.35L201.30,318.65M201.30,477.80L201.30,476.50M211.26,17.50L211.26,21.60M211.26,317.35L211.26,313.25M211.26,317.35L211.26,319.95M211.26,477.80L211.26,475.20M221.22,17.50L221.22,19.70M221.22,317.35L221.22,315.15M221.22,317.35L221.22,318.65M221.22,477.80L221.22,476.50M231.18,17.50L231.18,21.60M231.18,317.35L231.18,313.25M231.18,317.35L231.18,319.95M231.18,477.80L231.18,475.20M241.14,17.50L241.14,19.70M241.14,317.35L241.14,315.15M241.14,317.35L241.14,318.65M241.14,477.80L241.14,476.50M251.10,17.50L251.10,25.50M251.10,317.35L251.10,309.35M251.10,317.35L251.10,322.35M251.10,477.80L251.10,472.80M261.06,17.50L261.06,19.70M261.06,317.35L261.06,315.15M261.06,317.35L261.06,318.65M261.06,477.80L261.06,476.50M271.02,17.50L271.02,21.60M271.02,317.35L271.02,313.25M271.02,317.35L271.02,319.95M271.02,477.80L271.02,475.20M280.98,17.50L280.98,19.70M280.98,317.35L280.98,315.15M280.98,317.35L280.98,318.65M280.98,477.80L280.98,476.50M290.94,17.50L290.94,21.60M290.94,317.35L290.94,313.25M290.94,317.35L290.94,319.95M290.94,477.80L290.94,475.20M300.90,17.50L300.90,19.70M300.90,317.35L300.90,315.15M300.90,317.35L300.90,318.65M300.90,477.80L300.90,476.50M310.86,17.50L310.86,21.60M310.86,317.35L310.86,313.25M310.86,317.35L310.86,319.95M310.86,477.80L310.86,475.20M320.82,17.50L320.82,19.70M320.82,317.35L320.82,315.15M320.82,317.35L320.82,318.65M320.82,477.80L320.82,476.50M330.78,17.50L330.78,21.60M330.78,317.35L330.78,313.25M330.78,317.35L330.78,319.95M330.78,477.80L330.78,475.20M340.74,17.50L340.74,19.70M340.74,317.35L340.74,315.15M340.74,317.35L340.74,318.65M340.74,477.80L340.74,476.50M350.70,17.50L350.70,25.50M350.70,317.35L350.70,309.35M350.70,317.35L350.70,322.35M350.70,477.80L350.70,472.80M360.66,17.50L360.66,19.70M360.66,317.35L360.66,315.15M360.66,317.35L360.66,318.65M360.66,477.80L360.66,476.50M370.62,17.50L370.62,21.60M370.62,317.35L370.62,313.25M370.62,317.35L370.62,319.95M370.62,477.80L370.62,475.20" stroke="#000" stroke-width="1.1" fill="none"/>
<rect x="45.5" y="17.5" width="325.60" height="460.30" fill="none" stroke="#000" stroke-width="1.3"/>
<line x1="45.5" y1="317.35" x2="371.1" y2="317.35" stroke="#000" stroke-width="1.3"/>
<text x="51.2" y="13.7" font-size="12" text-anchor="start" fill="#000" >1960 GeV ppbar</text>
<text x="367.9" y="13.7" font-size="12" text-anchor="end" fill="#000" >Top (parton level)</text>
<text x="169.0" y="42.7" font-size="10" text-anchor="start" fill="#000" >Δϕ (ttbar) (dy &lt; 0)</text>
<text x="35.1" y="65.2" font-size="11" text-anchor="end" fill="#000" >10</text>
<text x="39.5" y="60.8" font-size="7.8" text-anchor="end" fill="#000" >2</text>
<text x="39.9" y="120.9" font-size="11" text-anchor="end" fill="#000" >10</text>
<text x="39.9" y="177.9" font-size="11" text-anchor="end" fill="#000" >1</text>
<text x="33.6" y="235.6" font-size="11" text-anchor="end" fill="#000" >10</text>
<text x="40.2" y="230.8" font-size="7.2" text-anchor="end" fill="#000" >−1</text>
<text x="33.6" y="292.6" font-size="11" text-anchor="end" fill="#000" >10</text>
<text x="40.2" y="287.8" font-size="7.2" text-anchor="end" fill="#000" >−2</text>
<text x="38.4" y="341.0" font-size="11.5" text-anchor="end" fill="#000" >2</text>
<text x="38.4" y="401.8" font-size="11.5" text-anchor="end" fill="#000" >1</text>
<text x="38.4" y="462.2" font-size="11.5" text-anchor="end" fill="#000" >0.5</text>
<text x="373.8" y="341.0" font-size="11.5" text-anchor="start" fill="#000" >2</text>
<text x="373.6" y="401.8" font-size="11.5" text-anchor="start" fill="#000" >1</text>
<text x="373.9" y="462.2" font-size="11.5" text-anchor="start" fill="#000" >0.5</text>
<text x="51.90" y="488.9" font-size="11.5" text-anchor="middle" fill="#000" >0</text>
<text x="151.50" y="488.9" font-size="11.5" text-anchor="middle" fill="#000" >1</text>
<text x="251.10" y="488.9" font-size="11.5" text-anchor="middle" fill="#000" >2</text>
<text x="350.70" y="488.9" font-size="11.5" text-anchor="middle" fill="#000" >3</text>
<text x="0" y="0" font-size="7.9" text-anchor="middle" fill="#a8a8a8" transform="translate(207.7,302.0)">(MC_FBA_TTBAR)</text>
<text x="0" y="0" font-size="9.5" text-anchor="end" fill="#888" transform="translate(380.5,18.3) rotate(-90)">Rivet 4.1.0, ≥ 100k events</text>
<text x="0" y="0" font-size="9.5" text-anchor="end" fill="#888" transform="translate(381.0,166.3) rotate(-90)">mcplots.cern.ch [arXiv:2401.10621]</text>
<text x="0" y="0" font-size="9.0" text-anchor="middle" fill="#000" transform="translate(16.9,396.3) rotate(-90)">Ratio to Pythia 6.428 345</text>
<line x1="64.0" y1="62.0" x2="88.3" y2="62.0" stroke="#c0304e" stroke-width="1.0" stroke-dasharray="3,2"/>
<circle cx="76.30" cy="62.00" r="2.3" fill="none" stroke="#c0304e" stroke-width="1.2"/>
<text x="93.9" y="65.4" font-size="9.45" text-anchor="start" fill="#000" >Pythia 6.428 345</text>
<line x1="64.0" y1="75.1" x2="88.3" y2="75.1" stroke="#c09438" stroke-width="1.0" stroke-dasharray="1.2,1.5"/>
<rect x="73.75" y="72.55" width="5.1" height="5.1" fill="none" stroke="#c09438" stroke-width="1.2"/>
<text x="93.9" y="78.5" font-size="9.45" text-anchor="start" fill="#000" >Pythia 6.428 346</text>
<line x1="64.0" y1="88.0" x2="88.3" y2="88.0" stroke="#a81424" stroke-width="1.2" stroke-dasharray="none"/>
<path d="M76.30,84.70 L79.40,90.90 L73.20,90.90 Z" fill="none" stroke="#a81424" stroke-width="1.05" stroke-linejoin="miter"/>
<text x="93.9" y="91.4" font-size="9.45" text-anchor="start" fill="#000" >Pythia 6.428 370</text>
<line x1="64.0" y1="101.1" x2="88.3" y2="101.1" stroke="#ff7326" stroke-width="1.0" stroke-dasharray="4,2,1,2"/>
<rect x="73.90" y="98.70" width="4.8" height="4.8" fill="#ff7326" stroke="none"/>
<text x="93.9" y="104.5" font-size="9.45" text-anchor="start" fill="#000" >Pythia 6.428 default</text>
<line x1="64.0" y1="114.3" x2="88.3" y2="114.3" stroke="#0000ff" stroke-width="1.2" stroke-dasharray="none"/>
<path d="M76.30,111.10 L79.20,116.60 L73.40,116.60 Z" fill="#0000ff" stroke="#0000ff" stroke-width="0.5"/>
<text x="93.9" y="117.7" font-size="9.45" text-anchor="start" fill="#000" >Pythia 8.315 default</text>
</svg></body></html>
